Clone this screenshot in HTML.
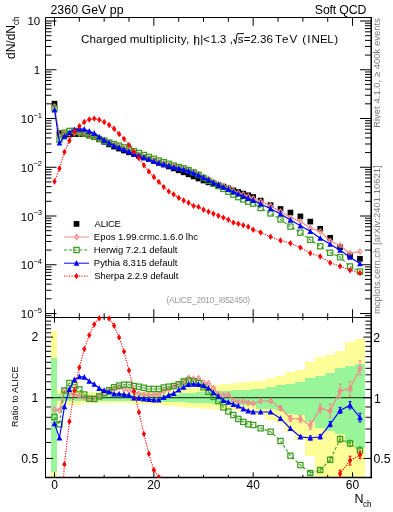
<!DOCTYPE html><html><head><meta charset="utf-8"><style>html,body{margin:0;padding:0;background:#fff;}svg{display:block;font-family:"Liberation Sans",sans-serif;will-change:transform;}</style></head><body>
<svg width="393" height="512" viewBox="0 0 393 512">
<defs><clipPath id="ct"><rect x="45.5" y="17.5" width="325.5" height="300"/></clipPath><clipPath id="cr"><rect x="45.5" y="317.5" width="325.5" height="160"/></clipPath><clipPath id="crm"><rect x="45.5" y="310" width="325.5" height="167.5"/></clipPath></defs>
<g clip-path="url(#cr)" shape-rendering="crispEdges">
<rect x="51.00" y="331.00" width="5.98" height="149.00" fill="#ffff99"/>
<rect x="51.00" y="357.70" width="5.98" height="114.00" fill="#99f599"/>
<rect x="56.98" y="390.40" width="4.97" height="14.30" fill="#ffff99"/>
<rect x="56.98" y="394.30" width="4.97" height="7.00" fill="#99f599"/>
<rect x="61.95" y="390.40" width="4.97" height="14.30" fill="#ffff99"/>
<rect x="61.95" y="394.30" width="4.97" height="7.00" fill="#99f599"/>
<rect x="66.92" y="390.40" width="4.97" height="14.30" fill="#ffff99"/>
<rect x="66.92" y="394.30" width="4.97" height="7.00" fill="#99f599"/>
<rect x="71.88" y="390.40" width="4.97" height="14.30" fill="#ffff99"/>
<rect x="71.88" y="394.30" width="4.97" height="7.00" fill="#99f599"/>
<rect x="76.85" y="390.40" width="4.97" height="14.30" fill="#ffff99"/>
<rect x="76.85" y="394.30" width="4.97" height="7.00" fill="#99f599"/>
<rect x="81.82" y="392.30" width="4.97" height="11.00" fill="#ffff99"/>
<rect x="81.82" y="395.30" width="4.97" height="5.30" fill="#99f599"/>
<rect x="86.79" y="392.30" width="4.97" height="11.00" fill="#ffff99"/>
<rect x="86.79" y="395.30" width="4.97" height="5.30" fill="#99f599"/>
<rect x="91.75" y="392.30" width="4.97" height="11.00" fill="#ffff99"/>
<rect x="91.75" y="395.30" width="4.97" height="5.30" fill="#99f599"/>
<rect x="96.72" y="392.30" width="4.97" height="11.00" fill="#ffff99"/>
<rect x="96.72" y="395.30" width="4.97" height="5.30" fill="#99f599"/>
<rect x="101.69" y="392.30" width="4.97" height="11.00" fill="#ffff99"/>
<rect x="101.69" y="395.30" width="4.97" height="5.30" fill="#99f599"/>
<rect x="106.65" y="392.30" width="4.97" height="11.00" fill="#ffff99"/>
<rect x="106.65" y="395.30" width="4.97" height="5.30" fill="#99f599"/>
<rect x="111.62" y="392.30" width="4.97" height="11.00" fill="#ffff99"/>
<rect x="111.62" y="395.30" width="4.97" height="5.30" fill="#99f599"/>
<rect x="116.59" y="392.30" width="4.97" height="11.00" fill="#ffff99"/>
<rect x="116.59" y="395.30" width="4.97" height="5.30" fill="#99f599"/>
<rect x="121.55" y="392.30" width="4.97" height="11.00" fill="#ffff99"/>
<rect x="121.55" y="395.30" width="4.97" height="5.30" fill="#99f599"/>
<rect x="126.52" y="392.30" width="4.97" height="11.00" fill="#ffff99"/>
<rect x="126.52" y="395.30" width="4.97" height="5.30" fill="#99f599"/>
<rect x="131.49" y="392.34" width="4.97" height="11.22" fill="#ffff99"/>
<rect x="131.49" y="395.30" width="4.97" height="5.42" fill="#99f599"/>
<rect x="136.46" y="392.38" width="4.97" height="11.44" fill="#ffff99"/>
<rect x="136.46" y="395.30" width="4.97" height="5.54" fill="#99f599"/>
<rect x="141.42" y="392.42" width="4.97" height="11.66" fill="#ffff99"/>
<rect x="141.42" y="395.30" width="4.97" height="5.66" fill="#99f599"/>
<rect x="146.39" y="392.46" width="4.97" height="11.88" fill="#ffff99"/>
<rect x="146.39" y="395.30" width="4.97" height="5.78" fill="#99f599"/>
<rect x="151.36" y="392.50" width="4.97" height="12.10" fill="#ffff99"/>
<rect x="151.36" y="395.30" width="4.97" height="5.90" fill="#99f599"/>
<rect x="156.32" y="391.82" width="4.97" height="13.21" fill="#ffff99"/>
<rect x="156.32" y="394.95" width="4.97" height="6.44" fill="#99f599"/>
<rect x="161.29" y="391.14" width="4.97" height="14.31" fill="#ffff99"/>
<rect x="161.29" y="394.61" width="4.97" height="6.97" fill="#99f599"/>
<rect x="166.26" y="390.46" width="4.97" height="15.42" fill="#ffff99"/>
<rect x="166.26" y="394.26" width="4.97" height="7.51" fill="#99f599"/>
<rect x="171.22" y="389.79" width="4.97" height="16.53" fill="#ffff99"/>
<rect x="171.22" y="393.92" width="4.97" height="8.04" fill="#99f599"/>
<rect x="176.19" y="389.11" width="4.97" height="17.64" fill="#ffff99"/>
<rect x="176.19" y="393.57" width="4.97" height="8.58" fill="#99f599"/>
<rect x="181.16" y="388.43" width="4.97" height="18.74" fill="#ffff99"/>
<rect x="181.16" y="393.23" width="4.97" height="9.11" fill="#99f599"/>
<rect x="186.13" y="387.75" width="4.97" height="19.85" fill="#ffff99"/>
<rect x="186.13" y="392.88" width="4.97" height="9.65" fill="#99f599"/>
<rect x="191.09" y="387.07" width="4.97" height="20.96" fill="#ffff99"/>
<rect x="191.09" y="392.54" width="4.97" height="10.19" fill="#99f599"/>
<rect x="196.06" y="386.51" width="4.97" height="21.86" fill="#ffff99"/>
<rect x="196.06" y="392.25" width="4.97" height="10.67" fill="#99f599"/>
<rect x="201.03" y="386.02" width="4.97" height="22.62" fill="#ffff99"/>
<rect x="201.03" y="392.00" width="4.97" height="11.13" fill="#99f599"/>
<rect x="205.99" y="385.53" width="4.97" height="23.39" fill="#ffff99"/>
<rect x="205.99" y="391.74" width="4.97" height="11.58" fill="#99f599"/>
<rect x="210.96" y="385.05" width="4.97" height="24.15" fill="#ffff99"/>
<rect x="210.96" y="391.49" width="4.97" height="12.03" fill="#99f599"/>
<rect x="215.93" y="384.56" width="4.97" height="24.92" fill="#ffff99"/>
<rect x="215.93" y="391.24" width="4.97" height="12.49" fill="#99f599"/>
<rect x="220.89" y="384.07" width="4.97" height="25.68" fill="#ffff99"/>
<rect x="220.89" y="390.99" width="4.97" height="12.94" fill="#99f599"/>
<rect x="225.86" y="383.58" width="4.97" height="26.45" fill="#ffff99"/>
<rect x="225.86" y="390.74" width="4.97" height="13.39" fill="#99f599"/>
<rect x="230.83" y="383.10" width="4.97" height="27.21" fill="#ffff99"/>
<rect x="230.83" y="390.48" width="4.97" height="13.85" fill="#99f599"/>
<rect x="235.80" y="382.61" width="4.97" height="27.98" fill="#ffff99"/>
<rect x="235.80" y="390.23" width="4.97" height="14.30" fill="#99f599"/>
<rect x="240.76" y="382.12" width="4.97" height="28.74" fill="#ffff99"/>
<rect x="240.76" y="389.98" width="4.97" height="14.76" fill="#99f599"/>
<rect x="245.73" y="381.63" width="4.97" height="29.51" fill="#ffff99"/>
<rect x="245.73" y="389.73" width="4.97" height="15.21" fill="#99f599"/>
<rect x="250.70" y="381.15" width="4.97" height="30.27" fill="#ffff99"/>
<rect x="250.70" y="389.48" width="4.97" height="15.66" fill="#99f599"/>
<rect x="255.66" y="380.80" width="9.93" height="34.20" fill="#ffff99"/>
<rect x="255.66" y="388.50" width="9.93" height="20.00" fill="#99f599"/>
<rect x="265.60" y="377.70" width="9.93" height="42.30" fill="#ffff99"/>
<rect x="265.60" y="387.00" width="9.93" height="22.00" fill="#99f599"/>
<rect x="275.53" y="376.20" width="9.93" height="46.80" fill="#ffff99"/>
<rect x="275.53" y="385.40" width="9.93" height="25.60" fill="#99f599"/>
<rect x="285.47" y="371.60" width="9.93" height="60.70" fill="#ffff99"/>
<rect x="285.47" y="383.90" width="9.93" height="30.40" fill="#99f599"/>
<rect x="295.40" y="370.00" width="9.93" height="69.80" fill="#ffff99"/>
<rect x="295.40" y="382.30" width="9.93" height="32.50" fill="#99f599"/>
<rect x="305.33" y="362.30" width="9.93" height="93.20" fill="#ffff99"/>
<rect x="305.33" y="377.70" width="9.93" height="44.60" fill="#99f599"/>
<rect x="315.27" y="357.10" width="9.93" height="122.90" fill="#ffff99"/>
<rect x="315.27" y="376.00" width="9.93" height="51.70" fill="#99f599"/>
<rect x="325.20" y="354.60" width="9.93" height="125.40" fill="#ffff99"/>
<rect x="325.20" y="372.50" width="9.93" height="58.50" fill="#99f599"/>
<rect x="335.14" y="351.00" width="9.93" height="129.00" fill="#ffff99"/>
<rect x="335.14" y="368.00" width="9.93" height="66.30" fill="#99f599"/>
<rect x="345.07" y="342.30" width="9.93" height="137.70" fill="#ffff99"/>
<rect x="345.07" y="365.50" width="9.93" height="77.90" fill="#99f599"/>
<rect x="355.00" y="338.60" width="9.93" height="141.40" fill="#ffff99"/>
<rect x="355.00" y="363.50" width="9.93" height="84.10" fill="#99f599"/>
</g>
<g><line x1="45.50" y1="17.50" x2="371.00" y2="17.50" stroke="#000" stroke-width="1"/><line x1="45.50" y1="17.50" x2="45.50" y2="477.50" stroke="#000" stroke-width="1"/><line x1="371.20" y1="17.00" x2="371.20" y2="478.30" stroke="#000" stroke-width="1.5"/><line x1="45.00" y1="317.50" x2="371.00" y2="317.50" stroke="#000" stroke-width="1"/><line x1="45.00" y1="477.60" x2="371.90" y2="477.60" stroke="#000" stroke-width="1.5"/><line x1="54.50" y1="17.50" x2="54.50" y2="25.80" stroke="#000" stroke-width="1"/><line x1="54.50" y1="317.50" x2="54.50" y2="309.20" stroke="#000" stroke-width="1"/><line x1="54.50" y1="317.50" x2="54.50" y2="322.70" stroke="#000" stroke-width="1"/><line x1="54.50" y1="477.50" x2="54.50" y2="472.30" stroke="#000" stroke-width="1"/><line x1="79.33" y1="17.50" x2="79.33" y2="21.70" stroke="#000" stroke-width="1"/><line x1="79.33" y1="317.50" x2="79.33" y2="313.30" stroke="#000" stroke-width="1"/><line x1="79.33" y1="317.50" x2="79.33" y2="320.20" stroke="#000" stroke-width="1"/><line x1="79.33" y1="477.50" x2="79.33" y2="474.80" stroke="#000" stroke-width="1"/><line x1="104.17" y1="17.50" x2="104.17" y2="21.70" stroke="#000" stroke-width="1"/><line x1="104.17" y1="317.50" x2="104.17" y2="313.30" stroke="#000" stroke-width="1"/><line x1="104.17" y1="317.50" x2="104.17" y2="320.20" stroke="#000" stroke-width="1"/><line x1="104.17" y1="477.50" x2="104.17" y2="474.80" stroke="#000" stroke-width="1"/><line x1="129.00" y1="17.50" x2="129.00" y2="21.70" stroke="#000" stroke-width="1"/><line x1="129.00" y1="317.50" x2="129.00" y2="313.30" stroke="#000" stroke-width="1"/><line x1="129.00" y1="317.50" x2="129.00" y2="320.20" stroke="#000" stroke-width="1"/><line x1="129.00" y1="477.50" x2="129.00" y2="474.80" stroke="#000" stroke-width="1"/><line x1="153.84" y1="17.50" x2="153.84" y2="25.80" stroke="#000" stroke-width="1"/><line x1="153.84" y1="317.50" x2="153.84" y2="309.20" stroke="#000" stroke-width="1"/><line x1="153.84" y1="317.50" x2="153.84" y2="322.70" stroke="#000" stroke-width="1"/><line x1="153.84" y1="477.50" x2="153.84" y2="472.30" stroke="#000" stroke-width="1"/><line x1="178.68" y1="17.50" x2="178.68" y2="21.70" stroke="#000" stroke-width="1"/><line x1="178.68" y1="317.50" x2="178.68" y2="313.30" stroke="#000" stroke-width="1"/><line x1="178.68" y1="317.50" x2="178.68" y2="320.20" stroke="#000" stroke-width="1"/><line x1="178.68" y1="477.50" x2="178.68" y2="474.80" stroke="#000" stroke-width="1"/><line x1="203.51" y1="17.50" x2="203.51" y2="21.70" stroke="#000" stroke-width="1"/><line x1="203.51" y1="317.50" x2="203.51" y2="313.30" stroke="#000" stroke-width="1"/><line x1="203.51" y1="317.50" x2="203.51" y2="320.20" stroke="#000" stroke-width="1"/><line x1="203.51" y1="477.50" x2="203.51" y2="474.80" stroke="#000" stroke-width="1"/><line x1="228.34" y1="17.50" x2="228.34" y2="21.70" stroke="#000" stroke-width="1"/><line x1="228.34" y1="317.50" x2="228.34" y2="313.30" stroke="#000" stroke-width="1"/><line x1="228.34" y1="317.50" x2="228.34" y2="320.20" stroke="#000" stroke-width="1"/><line x1="228.34" y1="477.50" x2="228.34" y2="474.80" stroke="#000" stroke-width="1"/><line x1="253.18" y1="17.50" x2="253.18" y2="25.80" stroke="#000" stroke-width="1"/><line x1="253.18" y1="317.50" x2="253.18" y2="309.20" stroke="#000" stroke-width="1"/><line x1="253.18" y1="317.50" x2="253.18" y2="322.70" stroke="#000" stroke-width="1"/><line x1="253.18" y1="477.50" x2="253.18" y2="472.30" stroke="#000" stroke-width="1"/><line x1="278.01" y1="17.50" x2="278.01" y2="21.70" stroke="#000" stroke-width="1"/><line x1="278.01" y1="317.50" x2="278.01" y2="313.30" stroke="#000" stroke-width="1"/><line x1="278.01" y1="317.50" x2="278.01" y2="320.20" stroke="#000" stroke-width="1"/><line x1="278.01" y1="477.50" x2="278.01" y2="474.80" stroke="#000" stroke-width="1"/><line x1="302.85" y1="17.50" x2="302.85" y2="21.70" stroke="#000" stroke-width="1"/><line x1="302.85" y1="317.50" x2="302.85" y2="313.30" stroke="#000" stroke-width="1"/><line x1="302.85" y1="317.50" x2="302.85" y2="320.20" stroke="#000" stroke-width="1"/><line x1="302.85" y1="477.50" x2="302.85" y2="474.80" stroke="#000" stroke-width="1"/><line x1="327.69" y1="17.50" x2="327.69" y2="21.70" stroke="#000" stroke-width="1"/><line x1="327.69" y1="317.50" x2="327.69" y2="313.30" stroke="#000" stroke-width="1"/><line x1="327.69" y1="317.50" x2="327.69" y2="320.20" stroke="#000" stroke-width="1"/><line x1="327.69" y1="477.50" x2="327.69" y2="474.80" stroke="#000" stroke-width="1"/><line x1="352.52" y1="17.50" x2="352.52" y2="25.80" stroke="#000" stroke-width="1"/><line x1="352.52" y1="317.50" x2="352.52" y2="309.20" stroke="#000" stroke-width="1"/><line x1="352.52" y1="317.50" x2="352.52" y2="322.70" stroke="#000" stroke-width="1"/><line x1="352.52" y1="477.50" x2="352.52" y2="472.30" stroke="#000" stroke-width="1"/><line x1="45.50" y1="315.73" x2="51.50" y2="315.73" stroke="#000" stroke-width="1"/><line x1="371.00" y1="315.73" x2="365.00" y2="315.73" stroke="#000" stroke-width="1"/><line x1="45.50" y1="313.50" x2="56.50" y2="313.50" stroke="#000" stroke-width="1"/><line x1="371.00" y1="313.50" x2="360.00" y2="313.50" stroke="#000" stroke-width="1"/><line x1="45.50" y1="298.82" x2="51.50" y2="298.82" stroke="#000" stroke-width="1"/><line x1="371.00" y1="298.82" x2="365.00" y2="298.82" stroke="#000" stroke-width="1"/><line x1="45.50" y1="290.24" x2="51.50" y2="290.24" stroke="#000" stroke-width="1"/><line x1="371.00" y1="290.24" x2="365.00" y2="290.24" stroke="#000" stroke-width="1"/><line x1="45.50" y1="284.15" x2="51.50" y2="284.15" stroke="#000" stroke-width="1"/><line x1="371.00" y1="284.15" x2="365.00" y2="284.15" stroke="#000" stroke-width="1"/><line x1="45.50" y1="279.43" x2="51.50" y2="279.43" stroke="#000" stroke-width="1"/><line x1="371.00" y1="279.43" x2="365.00" y2="279.43" stroke="#000" stroke-width="1"/><line x1="45.50" y1="275.57" x2="51.50" y2="275.57" stroke="#000" stroke-width="1"/><line x1="371.00" y1="275.57" x2="365.00" y2="275.57" stroke="#000" stroke-width="1"/><line x1="45.50" y1="272.30" x2="51.50" y2="272.30" stroke="#000" stroke-width="1"/><line x1="371.00" y1="272.30" x2="365.00" y2="272.30" stroke="#000" stroke-width="1"/><line x1="45.50" y1="269.47" x2="51.50" y2="269.47" stroke="#000" stroke-width="1"/><line x1="371.00" y1="269.47" x2="365.00" y2="269.47" stroke="#000" stroke-width="1"/><line x1="45.50" y1="266.98" x2="51.50" y2="266.98" stroke="#000" stroke-width="1"/><line x1="371.00" y1="266.98" x2="365.00" y2="266.98" stroke="#000" stroke-width="1"/><line x1="45.50" y1="264.75" x2="56.50" y2="264.75" stroke="#000" stroke-width="1"/><line x1="371.00" y1="264.75" x2="360.00" y2="264.75" stroke="#000" stroke-width="1"/><line x1="45.50" y1="250.07" x2="51.50" y2="250.07" stroke="#000" stroke-width="1"/><line x1="371.00" y1="250.07" x2="365.00" y2="250.07" stroke="#000" stroke-width="1"/><line x1="45.50" y1="241.49" x2="51.50" y2="241.49" stroke="#000" stroke-width="1"/><line x1="371.00" y1="241.49" x2="365.00" y2="241.49" stroke="#000" stroke-width="1"/><line x1="45.50" y1="235.40" x2="51.50" y2="235.40" stroke="#000" stroke-width="1"/><line x1="371.00" y1="235.40" x2="365.00" y2="235.40" stroke="#000" stroke-width="1"/><line x1="45.50" y1="230.68" x2="51.50" y2="230.68" stroke="#000" stroke-width="1"/><line x1="371.00" y1="230.68" x2="365.00" y2="230.68" stroke="#000" stroke-width="1"/><line x1="45.50" y1="226.82" x2="51.50" y2="226.82" stroke="#000" stroke-width="1"/><line x1="371.00" y1="226.82" x2="365.00" y2="226.82" stroke="#000" stroke-width="1"/><line x1="45.50" y1="223.55" x2="51.50" y2="223.55" stroke="#000" stroke-width="1"/><line x1="371.00" y1="223.55" x2="365.00" y2="223.55" stroke="#000" stroke-width="1"/><line x1="45.50" y1="220.72" x2="51.50" y2="220.72" stroke="#000" stroke-width="1"/><line x1="371.00" y1="220.72" x2="365.00" y2="220.72" stroke="#000" stroke-width="1"/><line x1="45.50" y1="218.23" x2="51.50" y2="218.23" stroke="#000" stroke-width="1"/><line x1="371.00" y1="218.23" x2="365.00" y2="218.23" stroke="#000" stroke-width="1"/><line x1="45.50" y1="216.00" x2="56.50" y2="216.00" stroke="#000" stroke-width="1"/><line x1="371.00" y1="216.00" x2="360.00" y2="216.00" stroke="#000" stroke-width="1"/><line x1="45.50" y1="201.32" x2="51.50" y2="201.32" stroke="#000" stroke-width="1"/><line x1="371.00" y1="201.32" x2="365.00" y2="201.32" stroke="#000" stroke-width="1"/><line x1="45.50" y1="192.74" x2="51.50" y2="192.74" stroke="#000" stroke-width="1"/><line x1="371.00" y1="192.74" x2="365.00" y2="192.74" stroke="#000" stroke-width="1"/><line x1="45.50" y1="186.65" x2="51.50" y2="186.65" stroke="#000" stroke-width="1"/><line x1="371.00" y1="186.65" x2="365.00" y2="186.65" stroke="#000" stroke-width="1"/><line x1="45.50" y1="181.93" x2="51.50" y2="181.93" stroke="#000" stroke-width="1"/><line x1="371.00" y1="181.93" x2="365.00" y2="181.93" stroke="#000" stroke-width="1"/><line x1="45.50" y1="178.07" x2="51.50" y2="178.07" stroke="#000" stroke-width="1"/><line x1="371.00" y1="178.07" x2="365.00" y2="178.07" stroke="#000" stroke-width="1"/><line x1="45.50" y1="174.80" x2="51.50" y2="174.80" stroke="#000" stroke-width="1"/><line x1="371.00" y1="174.80" x2="365.00" y2="174.80" stroke="#000" stroke-width="1"/><line x1="45.50" y1="171.97" x2="51.50" y2="171.97" stroke="#000" stroke-width="1"/><line x1="371.00" y1="171.97" x2="365.00" y2="171.97" stroke="#000" stroke-width="1"/><line x1="45.50" y1="169.48" x2="51.50" y2="169.48" stroke="#000" stroke-width="1"/><line x1="371.00" y1="169.48" x2="365.00" y2="169.48" stroke="#000" stroke-width="1"/><line x1="45.50" y1="167.25" x2="56.50" y2="167.25" stroke="#000" stroke-width="1"/><line x1="371.00" y1="167.25" x2="360.00" y2="167.25" stroke="#000" stroke-width="1"/><line x1="45.50" y1="152.57" x2="51.50" y2="152.57" stroke="#000" stroke-width="1"/><line x1="371.00" y1="152.57" x2="365.00" y2="152.57" stroke="#000" stroke-width="1"/><line x1="45.50" y1="143.99" x2="51.50" y2="143.99" stroke="#000" stroke-width="1"/><line x1="371.00" y1="143.99" x2="365.00" y2="143.99" stroke="#000" stroke-width="1"/><line x1="45.50" y1="137.90" x2="51.50" y2="137.90" stroke="#000" stroke-width="1"/><line x1="371.00" y1="137.90" x2="365.00" y2="137.90" stroke="#000" stroke-width="1"/><line x1="45.50" y1="133.18" x2="51.50" y2="133.18" stroke="#000" stroke-width="1"/><line x1="371.00" y1="133.18" x2="365.00" y2="133.18" stroke="#000" stroke-width="1"/><line x1="45.50" y1="129.32" x2="51.50" y2="129.32" stroke="#000" stroke-width="1"/><line x1="371.00" y1="129.32" x2="365.00" y2="129.32" stroke="#000" stroke-width="1"/><line x1="45.50" y1="126.05" x2="51.50" y2="126.05" stroke="#000" stroke-width="1"/><line x1="371.00" y1="126.05" x2="365.00" y2="126.05" stroke="#000" stroke-width="1"/><line x1="45.50" y1="123.22" x2="51.50" y2="123.22" stroke="#000" stroke-width="1"/><line x1="371.00" y1="123.22" x2="365.00" y2="123.22" stroke="#000" stroke-width="1"/><line x1="45.50" y1="120.73" x2="51.50" y2="120.73" stroke="#000" stroke-width="1"/><line x1="371.00" y1="120.73" x2="365.00" y2="120.73" stroke="#000" stroke-width="1"/><line x1="45.50" y1="118.50" x2="56.50" y2="118.50" stroke="#000" stroke-width="1"/><line x1="371.00" y1="118.50" x2="360.00" y2="118.50" stroke="#000" stroke-width="1"/><line x1="45.50" y1="103.82" x2="51.50" y2="103.82" stroke="#000" stroke-width="1"/><line x1="371.00" y1="103.82" x2="365.00" y2="103.82" stroke="#000" stroke-width="1"/><line x1="45.50" y1="95.24" x2="51.50" y2="95.24" stroke="#000" stroke-width="1"/><line x1="371.00" y1="95.24" x2="365.00" y2="95.24" stroke="#000" stroke-width="1"/><line x1="45.50" y1="89.15" x2="51.50" y2="89.15" stroke="#000" stroke-width="1"/><line x1="371.00" y1="89.15" x2="365.00" y2="89.15" stroke="#000" stroke-width="1"/><line x1="45.50" y1="84.43" x2="51.50" y2="84.43" stroke="#000" stroke-width="1"/><line x1="371.00" y1="84.43" x2="365.00" y2="84.43" stroke="#000" stroke-width="1"/><line x1="45.50" y1="80.57" x2="51.50" y2="80.57" stroke="#000" stroke-width="1"/><line x1="371.00" y1="80.57" x2="365.00" y2="80.57" stroke="#000" stroke-width="1"/><line x1="45.50" y1="77.30" x2="51.50" y2="77.30" stroke="#000" stroke-width="1"/><line x1="371.00" y1="77.30" x2="365.00" y2="77.30" stroke="#000" stroke-width="1"/><line x1="45.50" y1="74.47" x2="51.50" y2="74.47" stroke="#000" stroke-width="1"/><line x1="371.00" y1="74.47" x2="365.00" y2="74.47" stroke="#000" stroke-width="1"/><line x1="45.50" y1="71.98" x2="51.50" y2="71.98" stroke="#000" stroke-width="1"/><line x1="371.00" y1="71.98" x2="365.00" y2="71.98" stroke="#000" stroke-width="1"/><line x1="45.50" y1="69.75" x2="56.50" y2="69.75" stroke="#000" stroke-width="1"/><line x1="371.00" y1="69.75" x2="360.00" y2="69.75" stroke="#000" stroke-width="1"/><line x1="45.50" y1="55.07" x2="51.50" y2="55.07" stroke="#000" stroke-width="1"/><line x1="371.00" y1="55.07" x2="365.00" y2="55.07" stroke="#000" stroke-width="1"/><line x1="45.50" y1="46.49" x2="51.50" y2="46.49" stroke="#000" stroke-width="1"/><line x1="371.00" y1="46.49" x2="365.00" y2="46.49" stroke="#000" stroke-width="1"/><line x1="45.50" y1="40.40" x2="51.50" y2="40.40" stroke="#000" stroke-width="1"/><line x1="371.00" y1="40.40" x2="365.00" y2="40.40" stroke="#000" stroke-width="1"/><line x1="45.50" y1="35.68" x2="51.50" y2="35.68" stroke="#000" stroke-width="1"/><line x1="371.00" y1="35.68" x2="365.00" y2="35.68" stroke="#000" stroke-width="1"/><line x1="45.50" y1="31.82" x2="51.50" y2="31.82" stroke="#000" stroke-width="1"/><line x1="371.00" y1="31.82" x2="365.00" y2="31.82" stroke="#000" stroke-width="1"/><line x1="45.50" y1="28.55" x2="51.50" y2="28.55" stroke="#000" stroke-width="1"/><line x1="371.00" y1="28.55" x2="365.00" y2="28.55" stroke="#000" stroke-width="1"/><line x1="45.50" y1="25.72" x2="51.50" y2="25.72" stroke="#000" stroke-width="1"/><line x1="371.00" y1="25.72" x2="365.00" y2="25.72" stroke="#000" stroke-width="1"/><line x1="45.50" y1="23.23" x2="51.50" y2="23.23" stroke="#000" stroke-width="1"/><line x1="371.00" y1="23.23" x2="365.00" y2="23.23" stroke="#000" stroke-width="1"/><line x1="45.50" y1="21.00" x2="56.50" y2="21.00" stroke="#000" stroke-width="1"/><line x1="371.00" y1="21.00" x2="360.00" y2="21.00" stroke="#000" stroke-width="1"/><line x1="45.50" y1="458.41" x2="53.10" y2="458.41" stroke="#000" stroke-width="1"/><line x1="371.00" y1="458.41" x2="363.40" y2="458.41" stroke="#000" stroke-width="1"/><line x1="45.50" y1="442.45" x2="51.10" y2="442.45" stroke="#000" stroke-width="1"/><line x1="371.00" y1="442.45" x2="365.40" y2="442.45" stroke="#000" stroke-width="1"/><line x1="45.50" y1="428.96" x2="51.10" y2="428.96" stroke="#000" stroke-width="1"/><line x1="371.00" y1="428.96" x2="365.40" y2="428.96" stroke="#000" stroke-width="1"/><line x1="45.50" y1="417.28" x2="51.10" y2="417.28" stroke="#000" stroke-width="1"/><line x1="371.00" y1="417.28" x2="365.40" y2="417.28" stroke="#000" stroke-width="1"/><line x1="45.50" y1="406.97" x2="51.10" y2="406.97" stroke="#000" stroke-width="1"/><line x1="371.00" y1="406.97" x2="365.40" y2="406.97" stroke="#000" stroke-width="1"/><line x1="45.50" y1="397.75" x2="53.10" y2="397.75" stroke="#000" stroke-width="1"/><line x1="371.00" y1="397.75" x2="363.40" y2="397.75" stroke="#000" stroke-width="1"/><line x1="45.50" y1="389.41" x2="51.10" y2="389.41" stroke="#000" stroke-width="1"/><line x1="371.00" y1="389.41" x2="365.40" y2="389.41" stroke="#000" stroke-width="1"/><line x1="45.50" y1="381.79" x2="51.10" y2="381.79" stroke="#000" stroke-width="1"/><line x1="371.00" y1="381.79" x2="365.40" y2="381.79" stroke="#000" stroke-width="1"/><line x1="45.50" y1="374.79" x2="51.10" y2="374.79" stroke="#000" stroke-width="1"/><line x1="371.00" y1="374.79" x2="365.40" y2="374.79" stroke="#000" stroke-width="1"/><line x1="45.50" y1="368.31" x2="51.10" y2="368.31" stroke="#000" stroke-width="1"/><line x1="371.00" y1="368.31" x2="365.40" y2="368.31" stroke="#000" stroke-width="1"/><line x1="45.50" y1="362.27" x2="51.10" y2="362.27" stroke="#000" stroke-width="1"/><line x1="371.00" y1="362.27" x2="365.40" y2="362.27" stroke="#000" stroke-width="1"/><line x1="45.50" y1="356.62" x2="51.10" y2="356.62" stroke="#000" stroke-width="1"/><line x1="371.00" y1="356.62" x2="365.40" y2="356.62" stroke="#000" stroke-width="1"/><line x1="45.50" y1="351.31" x2="51.10" y2="351.31" stroke="#000" stroke-width="1"/><line x1="371.00" y1="351.31" x2="365.40" y2="351.31" stroke="#000" stroke-width="1"/><line x1="45.50" y1="346.31" x2="51.10" y2="346.31" stroke="#000" stroke-width="1"/><line x1="371.00" y1="346.31" x2="365.40" y2="346.31" stroke="#000" stroke-width="1"/><line x1="45.50" y1="341.58" x2="51.10" y2="341.58" stroke="#000" stroke-width="1"/><line x1="371.00" y1="341.58" x2="365.40" y2="341.58" stroke="#000" stroke-width="1"/><line x1="45.50" y1="337.09" x2="53.10" y2="337.09" stroke="#000" stroke-width="1"/><line x1="371.00" y1="337.09" x2="363.40" y2="337.09" stroke="#000" stroke-width="1"/><line x1="45.50" y1="332.82" x2="51.10" y2="332.82" stroke="#000" stroke-width="1"/><line x1="371.00" y1="332.82" x2="365.40" y2="332.82" stroke="#000" stroke-width="1"/><line x1="45.50" y1="328.75" x2="51.10" y2="328.75" stroke="#000" stroke-width="1"/><line x1="371.00" y1="328.75" x2="365.40" y2="328.75" stroke="#000" stroke-width="1"/><line x1="45.50" y1="324.86" x2="51.10" y2="324.86" stroke="#000" stroke-width="1"/><line x1="371.00" y1="324.86" x2="365.40" y2="324.86" stroke="#000" stroke-width="1"/><line x1="45.50" y1="321.14" x2="51.10" y2="321.14" stroke="#000" stroke-width="1"/><line x1="371.00" y1="321.14" x2="365.40" y2="321.14" stroke="#000" stroke-width="1"/></g>
<line x1="45.5" y1="397.55" x2="371.0" y2="397.55" stroke="#000" stroke-opacity="0.7" stroke-width="1.2"/>
<polyline clip-path="url(#cr)" points="54.50,409.50 59.47,410.30 64.43,390.50 69.40,393.00 74.37,394.00 79.33,396.00 84.30,397.50 89.27,399.00 94.24,399.00 99.20,396.00 104.17,392.00 109.14,390.00 114.10,388.20 119.07,387.20 124.04,389.00 129.00,390.50 133.97,392.40 138.94,393.60 143.91,394.40 148.87,395.10 153.84,394.40 158.81,394.40 163.77,391.00 168.74,389.00 173.71,386.70 178.68,384.40 183.64,381.00 188.61,377.90 193.58,379.00 198.54,378.30 203.51,382.50 208.48,383.30 213.44,388.30 218.41,394.00 223.38,395.20 228.34,394.40 233.31,400.50 238.28,402.10 243.25,401.30 248.21,402.80 253.18,403.60 260.63,401.00 270.56,401.00 280.50,408.00 290.43,418.50 300.37,419.10 310.30,425.40 320.23,408.40 330.17,411.00 340.10,390.90 350.04,388.90 359.97,367.90" fill="none" stroke="#f28a8a" stroke-width="1.2"/>
<g clip-path="url(#crm)"><polygon points="54.50,406.90 56.60,409.50 54.50,412.10 52.40,409.50" fill="none" stroke="#f28a8a" stroke-width="1.1"/><polygon points="59.47,407.70 61.57,410.30 59.47,412.90 57.37,410.30" fill="none" stroke="#f28a8a" stroke-width="1.1"/><polygon points="64.43,387.90 66.53,390.50 64.43,393.10 62.33,390.50" fill="none" stroke="#f28a8a" stroke-width="1.1"/><polygon points="69.40,390.40 71.50,393.00 69.40,395.60 67.30,393.00" fill="none" stroke="#f28a8a" stroke-width="1.1"/><polygon points="74.37,391.40 76.47,394.00 74.37,396.60 72.27,394.00" fill="none" stroke="#f28a8a" stroke-width="1.1"/><polygon points="79.33,393.40 81.43,396.00 79.33,398.60 77.23,396.00" fill="none" stroke="#f28a8a" stroke-width="1.1"/><polygon points="84.30,394.90 86.40,397.50 84.30,400.10 82.20,397.50" fill="none" stroke="#f28a8a" stroke-width="1.1"/><polygon points="89.27,396.40 91.37,399.00 89.27,401.60 87.17,399.00" fill="none" stroke="#f28a8a" stroke-width="1.1"/><polygon points="94.24,396.40 96.34,399.00 94.24,401.60 92.14,399.00" fill="none" stroke="#f28a8a" stroke-width="1.1"/><polygon points="99.20,393.40 101.30,396.00 99.20,398.60 97.10,396.00" fill="none" stroke="#f28a8a" stroke-width="1.1"/><polygon points="104.17,389.40 106.27,392.00 104.17,394.60 102.07,392.00" fill="none" stroke="#f28a8a" stroke-width="1.1"/><polygon points="109.14,387.40 111.24,390.00 109.14,392.60 107.04,390.00" fill="none" stroke="#f28a8a" stroke-width="1.1"/><polygon points="114.10,385.60 116.20,388.20 114.10,390.80 112.00,388.20" fill="none" stroke="#f28a8a" stroke-width="1.1"/><polygon points="119.07,384.60 121.17,387.20 119.07,389.80 116.97,387.20" fill="none" stroke="#f28a8a" stroke-width="1.1"/><polygon points="124.04,386.40 126.14,389.00 124.04,391.60 121.94,389.00" fill="none" stroke="#f28a8a" stroke-width="1.1"/><polygon points="129.00,387.90 131.10,390.50 129.00,393.10 126.91,390.50" fill="none" stroke="#f28a8a" stroke-width="1.1"/><polygon points="133.97,389.80 136.07,392.40 133.97,395.00 131.87,392.40" fill="none" stroke="#f28a8a" stroke-width="1.1"/><polygon points="138.94,391.00 141.04,393.60 138.94,396.20 136.84,393.60" fill="none" stroke="#f28a8a" stroke-width="1.1"/><polygon points="143.91,391.80 146.01,394.40 143.91,397.00 141.81,394.40" fill="none" stroke="#f28a8a" stroke-width="1.1"/><polygon points="148.87,392.50 150.97,395.10 148.87,397.70 146.77,395.10" fill="none" stroke="#f28a8a" stroke-width="1.1"/><polygon points="153.84,391.80 155.94,394.40 153.84,397.00 151.74,394.40" fill="none" stroke="#f28a8a" stroke-width="1.1"/><polygon points="158.81,391.80 160.91,394.40 158.81,397.00 156.71,394.40" fill="none" stroke="#f28a8a" stroke-width="1.1"/><polygon points="163.77,388.40 165.87,391.00 163.77,393.60 161.67,391.00" fill="none" stroke="#f28a8a" stroke-width="1.1"/><polygon points="168.74,386.40 170.84,389.00 168.74,391.60 166.64,389.00" fill="none" stroke="#f28a8a" stroke-width="1.1"/><polygon points="173.71,384.10 175.81,386.70 173.71,389.30 171.61,386.70" fill="none" stroke="#f28a8a" stroke-width="1.1"/><polygon points="178.68,381.80 180.78,384.40 178.68,387.00 176.58,384.40" fill="none" stroke="#f28a8a" stroke-width="1.1"/><polygon points="183.64,378.40 185.74,381.00 183.64,383.60 181.54,381.00" fill="none" stroke="#f28a8a" stroke-width="1.1"/><polygon points="188.61,375.30 190.71,377.90 188.61,380.50 186.51,377.90" fill="none" stroke="#f28a8a" stroke-width="1.1"/><polygon points="193.58,376.40 195.68,379.00 193.58,381.60 191.48,379.00" fill="none" stroke="#f28a8a" stroke-width="1.1"/><polygon points="198.54,375.70 200.64,378.30 198.54,380.90 196.44,378.30" fill="none" stroke="#f28a8a" stroke-width="1.1"/><polygon points="203.51,379.90 205.61,382.50 203.51,385.10 201.41,382.50" fill="none" stroke="#f28a8a" stroke-width="1.1"/><polygon points="208.48,380.70 210.58,383.30 208.48,385.90 206.38,383.30" fill="none" stroke="#f28a8a" stroke-width="1.1"/><polygon points="213.44,385.70 215.54,388.30 213.44,390.90 211.34,388.30" fill="none" stroke="#f28a8a" stroke-width="1.1"/><polygon points="218.41,391.40 220.51,394.00 218.41,396.60 216.31,394.00" fill="none" stroke="#f28a8a" stroke-width="1.1"/><polygon points="223.38,392.60 225.48,395.20 223.38,397.80 221.28,395.20" fill="none" stroke="#f28a8a" stroke-width="1.1"/><polygon points="228.34,391.80 230.44,394.40 228.34,397.00 226.25,394.40" fill="none" stroke="#f28a8a" stroke-width="1.1"/><polygon points="233.31,397.90 235.41,400.50 233.31,403.10 231.21,400.50" fill="none" stroke="#f28a8a" stroke-width="1.1"/><polygon points="238.28,399.50 240.38,402.10 238.28,404.70 236.18,402.10" fill="none" stroke="#f28a8a" stroke-width="1.1"/><polygon points="243.25,398.70 245.35,401.30 243.25,403.90 241.15,401.30" fill="none" stroke="#f28a8a" stroke-width="1.1"/><polygon points="248.21,400.20 250.31,402.80 248.21,405.40 246.11,402.80" fill="none" stroke="#f28a8a" stroke-width="1.1"/><polygon points="253.18,401.00 255.28,403.60 253.18,406.20 251.08,403.60" fill="none" stroke="#f28a8a" stroke-width="1.1"/><polygon points="260.63,398.40 262.73,401.00 260.63,403.60 258.53,401.00" fill="none" stroke="#f28a8a" stroke-width="1.1"/><polygon points="270.56,398.40 272.66,401.00 270.56,403.60 268.46,401.00" fill="none" stroke="#f28a8a" stroke-width="1.1"/><path d="M280.50,406.00V410.00M279.00,406.00H282.00M279.00,410.00H282.00" stroke="#f28a8a" stroke-width="1" fill="none"/><polygon points="280.50,405.40 282.60,408.00 280.50,410.60 278.40,408.00" fill="none" stroke="#f28a8a" stroke-width="1.1"/><path d="M290.43,415.50V421.50M288.93,415.50H291.93M288.93,421.50H291.93" stroke="#f28a8a" stroke-width="1" fill="none"/><polygon points="290.43,415.90 292.53,418.50 290.43,421.10 288.33,418.50" fill="none" stroke="#f28a8a" stroke-width="1.1"/><path d="M300.37,415.70V422.50M298.87,415.70H301.87M298.87,422.50H301.87" stroke="#f28a8a" stroke-width="1" fill="none"/><polygon points="300.37,416.50 302.47,419.10 300.37,421.70 298.27,419.10" fill="none" stroke="#f28a8a" stroke-width="1.1"/><path d="M310.30,421.20V429.60M308.80,421.20H311.80M308.80,429.60H311.80" stroke="#f28a8a" stroke-width="1" fill="none"/><polygon points="310.30,422.80 312.40,425.40 310.30,428.00 308.20,425.40" fill="none" stroke="#f28a8a" stroke-width="1.1"/><path d="M320.23,403.90V412.90M318.73,403.90H321.73M318.73,412.90H321.73" stroke="#f28a8a" stroke-width="1" fill="none"/><polygon points="320.23,405.80 322.33,408.40 320.23,411.00 318.13,408.40" fill="none" stroke="#f28a8a" stroke-width="1.1"/><path d="M330.17,404.50V417.50M328.67,404.50H331.67M328.67,417.50H331.67" stroke="#f28a8a" stroke-width="1" fill="none"/><polygon points="330.17,408.40 332.27,411.00 330.17,413.60 328.07,411.00" fill="none" stroke="#f28a8a" stroke-width="1.1"/><path d="M340.10,384.10V397.70M338.60,384.10H341.60M338.60,397.70H341.60" stroke="#f28a8a" stroke-width="1" fill="none"/><polygon points="340.10,388.30 342.20,390.90 340.10,393.50 338.00,390.90" fill="none" stroke="#f28a8a" stroke-width="1.1"/><path d="M350.04,381.60V396.20M348.54,381.60H351.54M348.54,396.20H351.54" stroke="#f28a8a" stroke-width="1" fill="none"/><polygon points="350.04,386.30 352.14,388.90 350.04,391.50 347.94,388.90" fill="none" stroke="#f28a8a" stroke-width="1.1"/><path d="M359.97,360.90V374.90M358.47,360.90H361.47M358.47,374.90H361.47" stroke="#f28a8a" stroke-width="1" fill="none"/><polygon points="359.97,365.30 362.07,367.90 359.97,370.50 357.87,367.90" fill="none" stroke="#f28a8a" stroke-width="1.1"/></g>
<polyline clip-path="url(#cr)" points="54.50,417.00 59.47,424.30 64.43,390.50 69.40,383.00 74.37,385.00 79.33,389.30 84.30,394.50 89.27,398.80 94.24,399.00 99.20,396.40 104.17,393.00 109.14,390.20 114.10,387.20 119.07,385.60 124.04,384.70 129.00,384.70 133.97,386.00 138.94,386.70 143.91,387.80 148.87,389.00 153.84,389.00 158.81,389.00 163.77,387.50 168.74,386.70 173.71,386.00 178.68,384.20 183.64,381.50 188.61,380.60 193.58,381.40 198.54,383.00 203.51,387.40 208.48,391.80 213.44,396.90 218.41,401.20 223.38,407.40 228.34,411.50 233.31,415.00 238.28,418.90 243.25,421.90 248.21,424.20 253.18,425.00 260.63,428.30 270.56,431.70 280.50,441.00 290.43,455.70 300.37,465.10 310.30,473.00 320.23,470.00 330.17,459.80 340.10,439.10 350.04,443.40 359.97,450.60" fill="none" stroke="#3a9d1f" stroke-width="1.1" stroke-dasharray="3,2"/>
<g clip-path="url(#crm)"><rect x="51.90" y="414.40" width="5.2" height="5.2" fill="none" stroke="#3a9d1f" stroke-width="1.25"/><rect x="56.87" y="421.70" width="5.2" height="5.2" fill="none" stroke="#3a9d1f" stroke-width="1.25"/><rect x="61.83" y="387.90" width="5.2" height="5.2" fill="none" stroke="#3a9d1f" stroke-width="1.25"/><rect x="66.80" y="380.40" width="5.2" height="5.2" fill="none" stroke="#3a9d1f" stroke-width="1.25"/><rect x="71.77" y="382.40" width="5.2" height="5.2" fill="none" stroke="#3a9d1f" stroke-width="1.25"/><rect x="76.73" y="386.70" width="5.2" height="5.2" fill="none" stroke="#3a9d1f" stroke-width="1.25"/><rect x="81.70" y="391.90" width="5.2" height="5.2" fill="none" stroke="#3a9d1f" stroke-width="1.25"/><rect x="86.67" y="396.20" width="5.2" height="5.2" fill="none" stroke="#3a9d1f" stroke-width="1.25"/><rect x="91.64" y="396.40" width="5.2" height="5.2" fill="none" stroke="#3a9d1f" stroke-width="1.25"/><rect x="96.60" y="393.80" width="5.2" height="5.2" fill="none" stroke="#3a9d1f" stroke-width="1.25"/><rect x="101.57" y="390.40" width="5.2" height="5.2" fill="none" stroke="#3a9d1f" stroke-width="1.25"/><rect x="106.54" y="387.60" width="5.2" height="5.2" fill="none" stroke="#3a9d1f" stroke-width="1.25"/><rect x="111.50" y="384.60" width="5.2" height="5.2" fill="none" stroke="#3a9d1f" stroke-width="1.25"/><rect x="116.47" y="383.00" width="5.2" height="5.2" fill="none" stroke="#3a9d1f" stroke-width="1.25"/><rect x="121.44" y="382.10" width="5.2" height="5.2" fill="none" stroke="#3a9d1f" stroke-width="1.25"/><rect x="126.41" y="382.10" width="5.2" height="5.2" fill="none" stroke="#3a9d1f" stroke-width="1.25"/><rect x="131.37" y="383.40" width="5.2" height="5.2" fill="none" stroke="#3a9d1f" stroke-width="1.25"/><rect x="136.34" y="384.10" width="5.2" height="5.2" fill="none" stroke="#3a9d1f" stroke-width="1.25"/><rect x="141.31" y="385.20" width="5.2" height="5.2" fill="none" stroke="#3a9d1f" stroke-width="1.25"/><rect x="146.27" y="386.40" width="5.2" height="5.2" fill="none" stroke="#3a9d1f" stroke-width="1.25"/><rect x="151.24" y="386.40" width="5.2" height="5.2" fill="none" stroke="#3a9d1f" stroke-width="1.25"/><rect x="156.21" y="386.40" width="5.2" height="5.2" fill="none" stroke="#3a9d1f" stroke-width="1.25"/><rect x="161.17" y="384.90" width="5.2" height="5.2" fill="none" stroke="#3a9d1f" stroke-width="1.25"/><rect x="166.14" y="384.10" width="5.2" height="5.2" fill="none" stroke="#3a9d1f" stroke-width="1.25"/><rect x="171.11" y="383.40" width="5.2" height="5.2" fill="none" stroke="#3a9d1f" stroke-width="1.25"/><rect x="176.08" y="381.60" width="5.2" height="5.2" fill="none" stroke="#3a9d1f" stroke-width="1.25"/><rect x="181.04" y="378.90" width="5.2" height="5.2" fill="none" stroke="#3a9d1f" stroke-width="1.25"/><rect x="186.01" y="378.00" width="5.2" height="5.2" fill="none" stroke="#3a9d1f" stroke-width="1.25"/><rect x="190.98" y="378.80" width="5.2" height="5.2" fill="none" stroke="#3a9d1f" stroke-width="1.25"/><rect x="195.94" y="380.40" width="5.2" height="5.2" fill="none" stroke="#3a9d1f" stroke-width="1.25"/><rect x="200.91" y="384.80" width="5.2" height="5.2" fill="none" stroke="#3a9d1f" stroke-width="1.25"/><rect x="205.88" y="389.20" width="5.2" height="5.2" fill="none" stroke="#3a9d1f" stroke-width="1.25"/><rect x="210.84" y="394.30" width="5.2" height="5.2" fill="none" stroke="#3a9d1f" stroke-width="1.25"/><rect x="215.81" y="398.60" width="5.2" height="5.2" fill="none" stroke="#3a9d1f" stroke-width="1.25"/><rect x="220.78" y="404.80" width="5.2" height="5.2" fill="none" stroke="#3a9d1f" stroke-width="1.25"/><rect x="225.75" y="408.90" width="5.2" height="5.2" fill="none" stroke="#3a9d1f" stroke-width="1.25"/><rect x="230.71" y="412.40" width="5.2" height="5.2" fill="none" stroke="#3a9d1f" stroke-width="1.25"/><rect x="235.68" y="416.30" width="5.2" height="5.2" fill="none" stroke="#3a9d1f" stroke-width="1.25"/><rect x="240.65" y="419.30" width="5.2" height="5.2" fill="none" stroke="#3a9d1f" stroke-width="1.25"/><rect x="245.61" y="421.60" width="5.2" height="5.2" fill="none" stroke="#3a9d1f" stroke-width="1.25"/><rect x="250.58" y="422.40" width="5.2" height="5.2" fill="none" stroke="#3a9d1f" stroke-width="1.25"/><rect x="258.03" y="425.70" width="5.2" height="5.2" fill="none" stroke="#3a9d1f" stroke-width="1.25"/><rect x="267.96" y="429.10" width="5.2" height="5.2" fill="none" stroke="#3a9d1f" stroke-width="1.25"/><rect x="277.90" y="438.40" width="5.2" height="5.2" fill="none" stroke="#3a9d1f" stroke-width="1.25"/><rect x="287.83" y="453.10" width="5.2" height="5.2" fill="none" stroke="#3a9d1f" stroke-width="1.25"/><rect x="297.77" y="462.50" width="5.2" height="5.2" fill="none" stroke="#3a9d1f" stroke-width="1.25"/><path d="M310.30,471.00V475.00M308.80,471.00H311.80M308.80,475.00H311.80" stroke="#3a9d1f" stroke-width="1" fill="none"/><rect x="307.70" y="470.40" width="5.2" height="5.2" fill="none" stroke="#3a9d1f" stroke-width="1.25"/><path d="M320.23,467.80V472.20M318.73,467.80H321.73M318.73,472.20H321.73" stroke="#3a9d1f" stroke-width="1" fill="none"/><rect x="317.63" y="467.40" width="5.2" height="5.2" fill="none" stroke="#3a9d1f" stroke-width="1.25"/><path d="M330.17,457.20V462.40M328.67,457.20H331.67M328.67,462.40H331.67" stroke="#3a9d1f" stroke-width="1" fill="none"/><rect x="327.57" y="457.20" width="5.2" height="5.2" fill="none" stroke="#3a9d1f" stroke-width="1.25"/><path d="M340.10,436.10V442.10M338.60,436.10H341.60M338.60,442.10H341.60" stroke="#3a9d1f" stroke-width="1" fill="none"/><rect x="337.50" y="436.50" width="5.2" height="5.2" fill="none" stroke="#3a9d1f" stroke-width="1.25"/><path d="M350.04,440.20V446.60M348.54,440.20H351.54M348.54,446.60H351.54" stroke="#3a9d1f" stroke-width="1" fill="none"/><rect x="347.44" y="440.80" width="5.2" height="5.2" fill="none" stroke="#3a9d1f" stroke-width="1.25"/><path d="M359.97,446.90V454.30M358.47,446.90H361.47M358.47,454.30H361.47" stroke="#3a9d1f" stroke-width="1" fill="none"/><rect x="357.37" y="448.00" width="5.2" height="5.2" fill="none" stroke="#3a9d1f" stroke-width="1.25"/></g>
<polyline clip-path="url(#cr)" points="54.50,423.60 59.47,437.90 64.43,406.70 69.40,389.30 74.37,379.70 79.33,376.60 84.30,377.10 89.27,381.20 94.24,384.20 99.20,388.30 104.17,390.50 109.14,392.00 114.10,393.90 119.07,393.90 124.04,394.40 129.00,395.10 133.97,397.90 138.94,398.20 143.91,398.90 148.87,399.40 153.84,400.00 158.81,400.00 163.77,397.40 168.74,395.10 173.71,393.40 178.68,389.90 183.64,387.10 188.61,384.30 193.58,384.20 198.54,384.30 203.51,385.70 208.48,388.10 213.44,392.70 218.41,396.10 223.38,400.40 228.34,402.10 233.31,404.40 238.28,405.90 243.25,408.90 248.21,410.90 253.18,412.00 260.63,412.00 270.56,412.00 280.50,418.50 290.43,428.50 300.37,436.90 310.30,438.00 320.23,436.70 330.17,424.20 340.10,410.40 350.04,405.20 359.97,417.60" fill="none" stroke="#0000ff" stroke-width="1.15"/>
<g clip-path="url(#crm)"><polygon points="54.50,420.40 57.30,426.20 51.70,426.20" fill="#0000ff"/><polygon points="59.47,434.70 62.27,440.50 56.67,440.50" fill="#0000ff"/><polygon points="64.43,403.50 67.23,409.30 61.63,409.30" fill="#0000ff"/><polygon points="69.40,386.10 72.20,391.90 66.60,391.90" fill="#0000ff"/><polygon points="74.37,376.50 77.17,382.30 71.57,382.30" fill="#0000ff"/><polygon points="79.33,373.40 82.13,379.20 76.53,379.20" fill="#0000ff"/><polygon points="84.30,373.90 87.10,379.70 81.50,379.70" fill="#0000ff"/><polygon points="89.27,378.00 92.07,383.80 86.47,383.80" fill="#0000ff"/><polygon points="94.24,381.00 97.04,386.80 91.44,386.80" fill="#0000ff"/><polygon points="99.20,385.10 102.00,390.90 96.40,390.90" fill="#0000ff"/><polygon points="104.17,387.30 106.97,393.10 101.37,393.10" fill="#0000ff"/><polygon points="109.14,388.80 111.94,394.60 106.34,394.60" fill="#0000ff"/><polygon points="114.10,390.70 116.90,396.50 111.30,396.50" fill="#0000ff"/><polygon points="119.07,390.70 121.87,396.50 116.27,396.50" fill="#0000ff"/><polygon points="124.04,391.20 126.84,397.00 121.24,397.00" fill="#0000ff"/><polygon points="129.00,391.90 131.81,397.70 126.20,397.70" fill="#0000ff"/><polygon points="133.97,394.70 136.77,400.50 131.17,400.50" fill="#0000ff"/><polygon points="138.94,395.00 141.74,400.80 136.14,400.80" fill="#0000ff"/><polygon points="143.91,395.70 146.71,401.50 141.11,401.50" fill="#0000ff"/><polygon points="148.87,396.20 151.67,402.00 146.07,402.00" fill="#0000ff"/><polygon points="153.84,396.80 156.64,402.60 151.04,402.60" fill="#0000ff"/><polygon points="158.81,396.80 161.61,402.60 156.01,402.60" fill="#0000ff"/><polygon points="163.77,394.20 166.57,400.00 160.97,400.00" fill="#0000ff"/><polygon points="168.74,391.90 171.54,397.70 165.94,397.70" fill="#0000ff"/><polygon points="173.71,390.20 176.51,396.00 170.91,396.00" fill="#0000ff"/><polygon points="178.68,386.70 181.48,392.50 175.88,392.50" fill="#0000ff"/><polygon points="183.64,383.90 186.44,389.70 180.84,389.70" fill="#0000ff"/><polygon points="188.61,381.10 191.41,386.90 185.81,386.90" fill="#0000ff"/><polygon points="193.58,381.00 196.38,386.80 190.78,386.80" fill="#0000ff"/><polygon points="198.54,381.10 201.34,386.90 195.74,386.90" fill="#0000ff"/><polygon points="203.51,382.50 206.31,388.30 200.71,388.30" fill="#0000ff"/><polygon points="208.48,384.90 211.28,390.70 205.68,390.70" fill="#0000ff"/><polygon points="213.44,389.50 216.24,395.30 210.64,395.30" fill="#0000ff"/><polygon points="218.41,392.90 221.21,398.70 215.61,398.70" fill="#0000ff"/><polygon points="223.38,397.20 226.18,403.00 220.58,403.00" fill="#0000ff"/><polygon points="228.34,398.90 231.15,404.70 225.54,404.70" fill="#0000ff"/><polygon points="233.31,401.20 236.11,407.00 230.51,407.00" fill="#0000ff"/><polygon points="238.28,402.70 241.08,408.50 235.48,408.50" fill="#0000ff"/><polygon points="243.25,405.70 246.05,411.50 240.45,411.50" fill="#0000ff"/><polygon points="248.21,407.70 251.01,413.50 245.41,413.50" fill="#0000ff"/><polygon points="253.18,408.80 255.98,414.60 250.38,414.60" fill="#0000ff"/><polygon points="260.63,408.80 263.43,414.60 257.83,414.60" fill="#0000ff"/><polygon points="270.56,408.80 273.36,414.60 267.76,414.60" fill="#0000ff"/><polygon points="280.50,415.30 283.30,421.10 277.70,421.10" fill="#0000ff"/><polygon points="290.43,425.30 293.23,431.10 287.63,431.10" fill="#0000ff"/><path d="M300.37,435.40V438.40M298.87,435.40H301.87M298.87,438.40H301.87" stroke="#0000ff" stroke-width="1" fill="none"/><polygon points="300.37,433.70 303.17,439.50 297.57,439.50" fill="#0000ff"/><path d="M310.30,436.00V440.00M308.80,436.00H311.80M308.80,440.00H311.80" stroke="#0000ff" stroke-width="1" fill="none"/><polygon points="310.30,434.80 313.10,440.60 307.50,440.60" fill="#0000ff"/><path d="M320.23,434.50V438.90M318.73,434.50H321.73M318.73,438.90H321.73" stroke="#0000ff" stroke-width="1" fill="none"/><polygon points="320.23,433.50 323.03,439.30 317.43,439.30" fill="#0000ff"/><path d="M330.17,421.60V426.80M328.67,421.60H331.67M328.67,426.80H331.67" stroke="#0000ff" stroke-width="1" fill="none"/><polygon points="330.17,421.00 332.97,426.80 327.37,426.80" fill="#0000ff"/><path d="M340.10,407.40V413.40M338.60,407.40H341.60M338.60,413.40H341.60" stroke="#0000ff" stroke-width="1" fill="none"/><polygon points="340.10,407.20 342.90,413.00 337.30,413.00" fill="#0000ff"/><path d="M350.04,401.50V408.90M348.54,401.50H351.54M348.54,408.90H351.54" stroke="#0000ff" stroke-width="1" fill="none"/><polygon points="350.04,402.00 352.84,407.80 347.24,407.80" fill="#0000ff"/><path d="M359.97,413.30V421.90M358.47,413.30H361.47M358.47,421.90H361.47" stroke="#0000ff" stroke-width="1" fill="none"/><polygon points="359.97,414.40 362.77,420.20 357.17,420.20" fill="#0000ff"/></g>
<polyline clip-path="url(#cr)" points="54.50,719.32 59.47,543.66 64.43,464.20 69.40,421.50 74.37,390.40 79.33,367.50 84.30,349.00 89.27,335.30 94.24,324.50 99.20,318.20 104.17,312.50 109.14,318.50 114.10,325.80 119.07,337.40 124.04,351.60 129.00,370.40 133.97,391.30 138.94,412.20 143.91,433.90 148.87,453.80 153.84,470.00 158.81,477.11 163.77,490.75 168.74,500.67 173.71,505.22 178.68,511.42 183.64,514.31 188.61,515.55 193.58,519.68 198.54,515.14 203.51,518.44 208.48,519.27 213.44,520.92 218.41,523.82 223.38,525.88 228.34,527.54 233.31,530.84 238.28,528.78 243.25,528.36 248.21,527.54 253.18,533.32 260.63,529.60 270.56,527.95 280.50,527.95 290.43,524.23 300.37,526.71 310.30,528.36 320.23,512.24 330.17,501.08 340.10,473.60 350.04,460.60 359.97,454.90" fill="none" stroke="#ff0000" stroke-width="1.1" stroke-dasharray="1.2,1.3"/>
<g clip-path="url(#crm)"><polygon points="64.43,461.00 66.58,464.20 64.43,467.40 62.28,464.20" fill="#ff0000"/><polygon points="69.40,418.30 71.55,421.50 69.40,424.70 67.25,421.50" fill="#ff0000"/><polygon points="74.37,387.20 76.52,390.40 74.37,393.60 72.22,390.40" fill="#ff0000"/><polygon points="79.33,364.30 81.48,367.50 79.33,370.70 77.18,367.50" fill="#ff0000"/><polygon points="84.30,345.80 86.45,349.00 84.30,352.20 82.15,349.00" fill="#ff0000"/><polygon points="89.27,332.10 91.42,335.30 89.27,338.50 87.12,335.30" fill="#ff0000"/><polygon points="94.24,321.30 96.39,324.50 94.24,327.70 92.09,324.50" fill="#ff0000"/><polygon points="99.20,315.00 101.35,318.20 99.20,321.40 97.05,318.20" fill="#ff0000"/><polygon points="109.14,315.30 111.29,318.50 109.14,321.70 106.99,318.50" fill="#ff0000"/><polygon points="114.10,322.60 116.25,325.80 114.10,329.00 111.95,325.80" fill="#ff0000"/><polygon points="119.07,334.20 121.22,337.40 119.07,340.60 116.92,337.40" fill="#ff0000"/><polygon points="124.04,348.40 126.19,351.60 124.04,354.80 121.89,351.60" fill="#ff0000"/><polygon points="129.00,367.20 131.16,370.40 129.00,373.60 126.85,370.40" fill="#ff0000"/><polygon points="133.97,388.10 136.12,391.30 133.97,394.50 131.82,391.30" fill="#ff0000"/><polygon points="138.94,409.00 141.09,412.20 138.94,415.40 136.79,412.20" fill="#ff0000"/><polygon points="143.91,430.70 146.06,433.90 143.91,437.10 141.76,433.90" fill="#ff0000"/><polygon points="148.87,450.60 151.02,453.80 148.87,457.00 146.72,453.80" fill="#ff0000"/><polygon points="153.84,466.80 155.99,470.00 153.84,473.20 151.69,470.00" fill="#ff0000"/><polygon points="158.81,473.91 160.96,477.11 158.81,480.31 156.66,477.11" fill="#ff0000"/><path d="M340.10,470.10V477.10M338.60,470.10H341.60M338.60,477.10H341.60" stroke="#ff0000" stroke-width="1" fill="none"/><polygon points="340.10,470.40 342.25,473.60 340.10,476.80 337.95,473.60" fill="#ff0000"/><path d="M350.04,456.20V465.00M348.54,456.20H351.54M348.54,465.00H351.54" stroke="#ff0000" stroke-width="1" fill="none"/><polygon points="350.04,457.40 352.19,460.60 350.04,463.80 347.89,460.60" fill="#ff0000"/><path d="M359.97,451.20V458.60M358.47,451.20H361.47M358.47,458.60H361.47" stroke="#ff0000" stroke-width="1" fill="none"/><polygon points="359.97,451.70 362.12,454.90 359.97,458.10 357.82,454.90" fill="#ff0000"/></g>
<g clip-path="url(#ct)">
<rect x="51.65" y="100.85" width="5.7" height="5.7" fill="#000"/><rect x="56.62" y="130.35" width="5.7" height="5.7" fill="#000"/><rect x="61.58" y="131.65" width="5.7" height="5.7" fill="#000"/><rect x="66.55" y="131.65" width="5.7" height="5.7" fill="#000"/><rect x="71.52" y="131.15" width="5.7" height="5.7" fill="#000"/><rect x="76.48" y="131.15" width="5.7" height="5.7" fill="#000"/><rect x="81.45" y="131.35" width="5.7" height="5.7" fill="#000"/><rect x="86.42" y="132.35" width="5.7" height="5.7" fill="#000"/><rect x="91.39" y="133.75" width="5.7" height="5.7" fill="#000"/><rect x="96.35" y="136.45" width="5.7" height="5.7" fill="#000"/><rect x="101.32" y="138.95" width="5.7" height="5.7" fill="#000"/><rect x="106.29" y="141.55" width="5.7" height="5.7" fill="#000"/><rect x="111.25" y="143.75" width="5.7" height="5.7" fill="#000"/><rect x="116.22" y="145.75" width="5.7" height="5.7" fill="#000"/><rect x="121.19" y="147.65" width="5.7" height="5.7" fill="#000"/><rect x="126.16" y="149.45" width="5.7" height="5.7" fill="#000"/><rect x="131.12" y="151.15" width="5.7" height="5.7" fill="#000"/><rect x="136.09" y="152.85" width="5.7" height="5.7" fill="#000"/><rect x="141.06" y="154.55" width="5.7" height="5.7" fill="#000"/><rect x="146.02" y="156.25" width="5.7" height="5.7" fill="#000"/><rect x="150.99" y="158.05" width="5.7" height="5.7" fill="#000"/><rect x="155.96" y="159.85" width="5.7" height="5.7" fill="#000"/><rect x="160.92" y="161.75" width="5.7" height="5.7" fill="#000"/><rect x="165.89" y="163.65" width="5.7" height="5.7" fill="#000"/><rect x="170.86" y="165.55" width="5.7" height="5.7" fill="#000"/><rect x="175.83" y="167.45" width="5.7" height="5.7" fill="#000"/><rect x="180.79" y="169.45" width="5.7" height="5.7" fill="#000"/><rect x="185.76" y="171.45" width="5.7" height="5.7" fill="#000"/><rect x="190.73" y="173.55" width="5.7" height="5.7" fill="#000"/><rect x="195.69" y="175.65" width="5.7" height="5.7" fill="#000"/><rect x="200.66" y="177.65" width="5.7" height="5.7" fill="#000"/><rect x="205.63" y="179.45" width="5.7" height="5.7" fill="#000"/><rect x="210.59" y="181.05" width="5.7" height="5.7" fill="#000"/><rect x="215.56" y="182.35" width="5.7" height="5.7" fill="#000"/><rect x="220.53" y="183.75" width="5.7" height="5.7" fill="#000"/><rect x="225.50" y="185.55" width="5.7" height="5.7" fill="#000"/><rect x="230.46" y="187.55" width="5.7" height="5.7" fill="#000"/><rect x="235.43" y="189.15" width="5.7" height="5.7" fill="#000"/><rect x="240.40" y="190.75" width="5.7" height="5.7" fill="#000"/><rect x="245.36" y="192.45" width="5.7" height="5.7" fill="#000"/><rect x="250.33" y="194.15" width="5.7" height="5.7" fill="#000"/><rect x="257.78" y="197.75" width="5.7" height="5.7" fill="#000"/><rect x="267.71" y="202.35" width="5.7" height="5.7" fill="#000"/><rect x="277.65" y="206.15" width="5.7" height="5.7" fill="#000"/><rect x="287.58" y="209.75" width="5.7" height="5.7" fill="#000"/><rect x="297.52" y="213.55" width="5.7" height="5.7" fill="#000"/><rect x="307.45" y="218.75" width="5.7" height="5.7" fill="#000"/><rect x="317.38" y="225.95" width="5.7" height="5.7" fill="#000"/><rect x="327.32" y="234.95" width="5.7" height="5.7" fill="#000"/><rect x="337.25" y="244.35" width="5.7" height="5.7" fill="#000"/><rect x="347.19" y="252.55" width="5.7" height="5.7" fill="#000"/><rect x="357.12" y="255.95" width="5.7" height="5.7" fill="#000"/>
<polyline points="54.50,106.54 59.47,136.24 64.43,132.75 69.40,133.35 74.37,133.09 79.33,133.58 84.30,134.14 89.27,135.50 94.24,136.90 99.20,138.88 104.17,140.41 109.14,142.53 114.10,144.29 119.07,146.05 124.04,148.38 129.00,150.55 133.97,152.71 138.94,154.70 143.91,156.59 148.87,158.46 153.84,160.09 158.81,161.89 163.77,162.97 168.74,164.38 173.71,165.73 178.68,167.07 183.64,168.25 188.61,169.50 193.58,171.86 198.54,173.79 203.51,176.81 208.48,178.80 213.44,181.61 218.41,184.29 223.38,185.98 228.34,187.59 233.31,191.07 238.28,193.05 243.25,194.46 248.21,196.52 253.18,198.42 260.63,201.39 270.56,205.99 280.50,211.48 290.43,217.62 300.37,221.57 310.30,228.29 320.23,231.38 330.17,241.01 340.10,245.54 350.04,253.26 359.97,251.58" fill="none" stroke="#f28a8a" stroke-width="1.2"/>
<polygon points="54.50,103.94 56.60,106.54 54.50,109.14 52.40,106.54" fill="none" stroke="#f28a8a" stroke-width="1.1"/><polygon points="59.47,133.64 61.57,136.24 59.47,138.84 57.37,136.24" fill="none" stroke="#f28a8a" stroke-width="1.1"/><polygon points="64.43,130.15 66.53,132.75 64.43,135.35 62.33,132.75" fill="none" stroke="#f28a8a" stroke-width="1.1"/><polygon points="69.40,130.75 71.50,133.35 69.40,135.95 67.30,133.35" fill="none" stroke="#f28a8a" stroke-width="1.1"/><polygon points="74.37,130.49 76.47,133.09 74.37,135.69 72.27,133.09" fill="none" stroke="#f28a8a" stroke-width="1.1"/><polygon points="79.33,130.98 81.43,133.58 79.33,136.18 77.23,133.58" fill="none" stroke="#f28a8a" stroke-width="1.1"/><polygon points="84.30,131.54 86.40,134.14 84.30,136.74 82.20,134.14" fill="none" stroke="#f28a8a" stroke-width="1.1"/><polygon points="89.27,132.90 91.37,135.50 89.27,138.10 87.17,135.50" fill="none" stroke="#f28a8a" stroke-width="1.1"/><polygon points="94.24,134.30 96.34,136.90 94.24,139.50 92.14,136.90" fill="none" stroke="#f28a8a" stroke-width="1.1"/><polygon points="99.20,136.28 101.30,138.88 99.20,141.48 97.10,138.88" fill="none" stroke="#f28a8a" stroke-width="1.1"/><polygon points="104.17,137.81 106.27,140.41 104.17,143.01 102.07,140.41" fill="none" stroke="#f28a8a" stroke-width="1.1"/><polygon points="109.14,139.93 111.24,142.53 109.14,145.12 107.04,142.53" fill="none" stroke="#f28a8a" stroke-width="1.1"/><polygon points="114.10,141.69 116.20,144.29 114.10,146.89 112.00,144.29" fill="none" stroke="#f28a8a" stroke-width="1.1"/><polygon points="119.07,143.45 121.17,146.05 119.07,148.65 116.97,146.05" fill="none" stroke="#f28a8a" stroke-width="1.1"/><polygon points="124.04,145.78 126.14,148.38 124.04,150.98 121.94,148.38" fill="none" stroke="#f28a8a" stroke-width="1.1"/><polygon points="129.00,147.95 131.10,150.55 129.00,153.15 126.91,150.55" fill="none" stroke="#f28a8a" stroke-width="1.1"/><polygon points="133.97,150.11 136.07,152.71 133.97,155.31 131.87,152.71" fill="none" stroke="#f28a8a" stroke-width="1.1"/><polygon points="138.94,152.10 141.04,154.70 138.94,157.30 136.84,154.70" fill="none" stroke="#f28a8a" stroke-width="1.1"/><polygon points="143.91,153.99 146.01,156.59 143.91,159.19 141.81,156.59" fill="none" stroke="#f28a8a" stroke-width="1.1"/><polygon points="148.87,155.86 150.97,158.46 148.87,161.06 146.77,158.46" fill="none" stroke="#f28a8a" stroke-width="1.1"/><polygon points="153.84,157.49 155.94,160.09 153.84,162.69 151.74,160.09" fill="none" stroke="#f28a8a" stroke-width="1.1"/><polygon points="158.81,159.29 160.91,161.89 158.81,164.49 156.71,161.89" fill="none" stroke="#f28a8a" stroke-width="1.1"/><polygon points="163.77,160.37 165.87,162.97 163.77,165.57 161.67,162.97" fill="none" stroke="#f28a8a" stroke-width="1.1"/><polygon points="168.74,161.78 170.84,164.38 168.74,166.98 166.64,164.38" fill="none" stroke="#f28a8a" stroke-width="1.1"/><polygon points="173.71,163.13 175.81,165.73 173.71,168.33 171.61,165.73" fill="none" stroke="#f28a8a" stroke-width="1.1"/><polygon points="178.68,164.47 180.78,167.07 178.68,169.67 176.58,167.07" fill="none" stroke="#f28a8a" stroke-width="1.1"/><polygon points="183.64,165.65 185.74,168.25 183.64,170.85 181.54,168.25" fill="none" stroke="#f28a8a" stroke-width="1.1"/><polygon points="188.61,166.90 190.71,169.50 188.61,172.10 186.51,169.50" fill="none" stroke="#f28a8a" stroke-width="1.1"/><polygon points="193.58,169.26 195.68,171.86 193.58,174.46 191.48,171.86" fill="none" stroke="#f28a8a" stroke-width="1.1"/><polygon points="198.54,171.19 200.64,173.79 198.54,176.39 196.44,173.79" fill="none" stroke="#f28a8a" stroke-width="1.1"/><polygon points="203.51,174.21 205.61,176.81 203.51,179.41 201.41,176.81" fill="none" stroke="#f28a8a" stroke-width="1.1"/><polygon points="208.48,176.20 210.58,178.80 208.48,181.40 206.38,178.80" fill="none" stroke="#f28a8a" stroke-width="1.1"/><polygon points="213.44,179.01 215.54,181.61 213.44,184.21 211.34,181.61" fill="none" stroke="#f28a8a" stroke-width="1.1"/><polygon points="218.41,181.69 220.51,184.29 218.41,186.89 216.31,184.29" fill="none" stroke="#f28a8a" stroke-width="1.1"/><polygon points="223.38,183.38 225.48,185.98 223.38,188.58 221.28,185.98" fill="none" stroke="#f28a8a" stroke-width="1.1"/><polygon points="228.34,184.99 230.44,187.59 228.34,190.19 226.25,187.59" fill="none" stroke="#f28a8a" stroke-width="1.1"/><polygon points="233.31,188.47 235.41,191.07 233.31,193.67 231.21,191.07" fill="none" stroke="#f28a8a" stroke-width="1.1"/><polygon points="238.28,190.45 240.38,193.05 238.28,195.65 236.18,193.05" fill="none" stroke="#f28a8a" stroke-width="1.1"/><polygon points="243.25,191.86 245.35,194.46 243.25,197.06 241.15,194.46" fill="none" stroke="#f28a8a" stroke-width="1.1"/><polygon points="248.21,193.92 250.31,196.52 248.21,199.12 246.11,196.52" fill="none" stroke="#f28a8a" stroke-width="1.1"/><polygon points="253.18,195.82 255.28,198.42 253.18,201.02 251.08,198.42" fill="none" stroke="#f28a8a" stroke-width="1.1"/><polygon points="260.63,198.79 262.73,201.39 260.63,203.99 258.53,201.39" fill="none" stroke="#f28a8a" stroke-width="1.1"/><polygon points="270.56,203.39 272.66,205.99 270.56,208.59 268.46,205.99" fill="none" stroke="#f28a8a" stroke-width="1.1"/><polygon points="280.50,208.88 282.60,211.48 280.50,214.08 278.40,211.48" fill="none" stroke="#f28a8a" stroke-width="1.1"/><polygon points="290.43,215.02 292.53,217.62 290.43,220.22 288.33,217.62" fill="none" stroke="#f28a8a" stroke-width="1.1"/><polygon points="300.37,218.97 302.47,221.57 300.37,224.17 298.27,221.57" fill="none" stroke="#f28a8a" stroke-width="1.1"/><polygon points="310.30,225.69 312.40,228.29 310.30,230.89 308.20,228.29" fill="none" stroke="#f28a8a" stroke-width="1.1"/><polygon points="320.23,228.78 322.33,231.38 320.23,233.98 318.13,231.38" fill="none" stroke="#f28a8a" stroke-width="1.1"/><polygon points="330.17,238.41 332.27,241.01 330.17,243.61 328.07,241.01" fill="none" stroke="#f28a8a" stroke-width="1.1"/><polygon points="340.10,242.94 342.20,245.54 340.10,248.14 338.00,245.54" fill="none" stroke="#f28a8a" stroke-width="1.1"/><polygon points="350.04,250.66 352.14,253.26 350.04,255.86 347.94,253.26" fill="none" stroke="#f28a8a" stroke-width="1.1"/><polygon points="359.97,248.98 362.07,251.58 359.97,254.18 357.87,251.58" fill="none" stroke="#f28a8a" stroke-width="1.1"/>
<polyline points="54.50,108.36 59.47,139.62 64.43,132.75 69.40,130.93 74.37,130.92 79.33,131.96 84.30,133.41 89.27,135.45 94.24,136.90 99.20,138.97 104.17,140.65 109.14,142.57 114.10,144.05 119.07,145.66 124.04,147.34 129.00,149.14 133.97,151.16 138.94,153.03 143.91,154.99 148.87,156.98 153.84,158.78 158.81,160.58 163.77,162.12 168.74,163.83 173.71,165.56 178.68,167.02 183.64,168.37 188.61,170.15 193.58,172.44 198.54,174.93 203.51,178.00 208.48,180.86 213.44,183.69 218.41,186.03 223.38,188.93 228.34,191.73 233.31,194.57 238.28,197.12 243.25,199.44 248.21,201.70 253.18,203.59 260.63,207.99 270.56,213.41 280.50,219.46 290.43,226.62 300.37,232.69 310.30,239.81 320.23,246.28 330.17,252.81 340.10,257.20 350.04,266.44 359.97,271.59" fill="none" stroke="#3a9d1f" stroke-width="1.1" stroke-dasharray="3,2"/>
<rect x="51.90" y="105.76" width="5.2" height="5.2" fill="none" stroke="#3a9d1f" stroke-width="1.25"/><rect x="56.87" y="137.02" width="5.2" height="5.2" fill="none" stroke="#3a9d1f" stroke-width="1.25"/><rect x="61.83" y="130.15" width="5.2" height="5.2" fill="none" stroke="#3a9d1f" stroke-width="1.25"/><rect x="66.80" y="128.33" width="5.2" height="5.2" fill="none" stroke="#3a9d1f" stroke-width="1.25"/><rect x="71.77" y="128.32" width="5.2" height="5.2" fill="none" stroke="#3a9d1f" stroke-width="1.25"/><rect x="76.73" y="129.36" width="5.2" height="5.2" fill="none" stroke="#3a9d1f" stroke-width="1.25"/><rect x="81.70" y="130.81" width="5.2" height="5.2" fill="none" stroke="#3a9d1f" stroke-width="1.25"/><rect x="86.67" y="132.85" width="5.2" height="5.2" fill="none" stroke="#3a9d1f" stroke-width="1.25"/><rect x="91.64" y="134.30" width="5.2" height="5.2" fill="none" stroke="#3a9d1f" stroke-width="1.25"/><rect x="96.60" y="136.37" width="5.2" height="5.2" fill="none" stroke="#3a9d1f" stroke-width="1.25"/><rect x="101.57" y="138.05" width="5.2" height="5.2" fill="none" stroke="#3a9d1f" stroke-width="1.25"/><rect x="106.54" y="139.97" width="5.2" height="5.2" fill="none" stroke="#3a9d1f" stroke-width="1.25"/><rect x="111.50" y="141.45" width="5.2" height="5.2" fill="none" stroke="#3a9d1f" stroke-width="1.25"/><rect x="116.47" y="143.06" width="5.2" height="5.2" fill="none" stroke="#3a9d1f" stroke-width="1.25"/><rect x="121.44" y="144.74" width="5.2" height="5.2" fill="none" stroke="#3a9d1f" stroke-width="1.25"/><rect x="126.41" y="146.54" width="5.2" height="5.2" fill="none" stroke="#3a9d1f" stroke-width="1.25"/><rect x="131.37" y="148.56" width="5.2" height="5.2" fill="none" stroke="#3a9d1f" stroke-width="1.25"/><rect x="136.34" y="150.43" width="5.2" height="5.2" fill="none" stroke="#3a9d1f" stroke-width="1.25"/><rect x="141.31" y="152.39" width="5.2" height="5.2" fill="none" stroke="#3a9d1f" stroke-width="1.25"/><rect x="146.27" y="154.38" width="5.2" height="5.2" fill="none" stroke="#3a9d1f" stroke-width="1.25"/><rect x="151.24" y="156.18" width="5.2" height="5.2" fill="none" stroke="#3a9d1f" stroke-width="1.25"/><rect x="156.21" y="157.98" width="5.2" height="5.2" fill="none" stroke="#3a9d1f" stroke-width="1.25"/><rect x="161.17" y="159.52" width="5.2" height="5.2" fill="none" stroke="#3a9d1f" stroke-width="1.25"/><rect x="166.14" y="161.23" width="5.2" height="5.2" fill="none" stroke="#3a9d1f" stroke-width="1.25"/><rect x="171.11" y="162.96" width="5.2" height="5.2" fill="none" stroke="#3a9d1f" stroke-width="1.25"/><rect x="176.08" y="164.42" width="5.2" height="5.2" fill="none" stroke="#3a9d1f" stroke-width="1.25"/><rect x="181.04" y="165.77" width="5.2" height="5.2" fill="none" stroke="#3a9d1f" stroke-width="1.25"/><rect x="186.01" y="167.55" width="5.2" height="5.2" fill="none" stroke="#3a9d1f" stroke-width="1.25"/><rect x="190.98" y="169.84" width="5.2" height="5.2" fill="none" stroke="#3a9d1f" stroke-width="1.25"/><rect x="195.94" y="172.33" width="5.2" height="5.2" fill="none" stroke="#3a9d1f" stroke-width="1.25"/><rect x="200.91" y="175.40" width="5.2" height="5.2" fill="none" stroke="#3a9d1f" stroke-width="1.25"/><rect x="205.88" y="178.26" width="5.2" height="5.2" fill="none" stroke="#3a9d1f" stroke-width="1.25"/><rect x="210.84" y="181.09" width="5.2" height="5.2" fill="none" stroke="#3a9d1f" stroke-width="1.25"/><rect x="215.81" y="183.43" width="5.2" height="5.2" fill="none" stroke="#3a9d1f" stroke-width="1.25"/><rect x="220.78" y="186.33" width="5.2" height="5.2" fill="none" stroke="#3a9d1f" stroke-width="1.25"/><rect x="225.75" y="189.13" width="5.2" height="5.2" fill="none" stroke="#3a9d1f" stroke-width="1.25"/><rect x="230.71" y="191.97" width="5.2" height="5.2" fill="none" stroke="#3a9d1f" stroke-width="1.25"/><rect x="235.68" y="194.52" width="5.2" height="5.2" fill="none" stroke="#3a9d1f" stroke-width="1.25"/><rect x="240.65" y="196.84" width="5.2" height="5.2" fill="none" stroke="#3a9d1f" stroke-width="1.25"/><rect x="245.61" y="199.10" width="5.2" height="5.2" fill="none" stroke="#3a9d1f" stroke-width="1.25"/><rect x="250.58" y="200.99" width="5.2" height="5.2" fill="none" stroke="#3a9d1f" stroke-width="1.25"/><rect x="258.03" y="205.39" width="5.2" height="5.2" fill="none" stroke="#3a9d1f" stroke-width="1.25"/><rect x="267.96" y="210.81" width="5.2" height="5.2" fill="none" stroke="#3a9d1f" stroke-width="1.25"/><rect x="277.90" y="216.86" width="5.2" height="5.2" fill="none" stroke="#3a9d1f" stroke-width="1.25"/><rect x="287.83" y="224.02" width="5.2" height="5.2" fill="none" stroke="#3a9d1f" stroke-width="1.25"/><rect x="297.77" y="230.09" width="5.2" height="5.2" fill="none" stroke="#3a9d1f" stroke-width="1.25"/><rect x="307.70" y="237.21" width="5.2" height="5.2" fill="none" stroke="#3a9d1f" stroke-width="1.25"/><rect x="317.63" y="243.68" width="5.2" height="5.2" fill="none" stroke="#3a9d1f" stroke-width="1.25"/><rect x="327.57" y="250.21" width="5.2" height="5.2" fill="none" stroke="#3a9d1f" stroke-width="1.25"/><rect x="337.50" y="254.60" width="5.2" height="5.2" fill="none" stroke="#3a9d1f" stroke-width="1.25"/><rect x="347.44" y="263.84" width="5.2" height="5.2" fill="none" stroke="#3a9d1f" stroke-width="1.25"/><rect x="357.37" y="268.99" width="5.2" height="5.2" fill="none" stroke="#3a9d1f" stroke-width="1.25"/>
<polyline points="54.50,109.95 59.47,142.91 64.43,136.67 69.40,132.46 74.37,129.63 79.33,128.88 84.30,129.20 89.27,131.20 94.24,133.32 99.20,137.01 104.17,140.05 109.14,143.01 114.10,145.67 119.07,147.67 124.04,149.69 129.00,151.66 133.97,154.04 138.94,155.81 143.91,157.68 148.87,159.50 153.84,161.44 158.81,163.24 163.77,164.52 168.74,165.86 173.71,167.35 178.68,168.40 183.64,169.72 188.61,171.05 193.58,173.12 198.54,175.25 203.51,177.58 208.48,179.97 213.44,182.68 218.41,184.80 223.38,187.24 228.34,189.45 233.31,192.01 238.28,193.97 243.25,196.30 248.21,198.48 253.18,200.45 260.63,204.05 270.56,208.65 280.50,214.02 290.43,220.04 300.37,225.87 310.30,231.34 320.23,238.22 330.17,244.20 340.10,250.26 350.04,257.20 359.97,263.60" fill="none" stroke="#0000ff" stroke-width="1.15"/>
<polygon points="54.50,106.75 57.30,112.55 51.70,112.55" fill="#0000ff"/><polygon points="59.47,139.71 62.27,145.51 56.67,145.51" fill="#0000ff"/><polygon points="64.43,133.47 67.23,139.27 61.63,139.27" fill="#0000ff"/><polygon points="69.40,129.26 72.20,135.06 66.60,135.06" fill="#0000ff"/><polygon points="74.37,126.43 77.17,132.23 71.57,132.23" fill="#0000ff"/><polygon points="79.33,125.68 82.13,131.48 76.53,131.48" fill="#0000ff"/><polygon points="84.30,126.00 87.10,131.80 81.50,131.80" fill="#0000ff"/><polygon points="89.27,128.00 92.07,133.80 86.47,133.80" fill="#0000ff"/><polygon points="94.24,130.12 97.04,135.92 91.44,135.92" fill="#0000ff"/><polygon points="99.20,133.81 102.00,139.61 96.40,139.61" fill="#0000ff"/><polygon points="104.17,136.85 106.97,142.65 101.37,142.65" fill="#0000ff"/><polygon points="109.14,139.81 111.94,145.61 106.34,145.61" fill="#0000ff"/><polygon points="114.10,142.47 116.90,148.27 111.30,148.27" fill="#0000ff"/><polygon points="119.07,144.47 121.87,150.27 116.27,150.27" fill="#0000ff"/><polygon points="124.04,146.49 126.84,152.29 121.24,152.29" fill="#0000ff"/><polygon points="129.00,148.46 131.81,154.26 126.20,154.26" fill="#0000ff"/><polygon points="133.97,150.84 136.77,156.64 131.17,156.64" fill="#0000ff"/><polygon points="138.94,152.61 141.74,158.41 136.14,158.41" fill="#0000ff"/><polygon points="143.91,154.48 146.71,160.28 141.11,160.28" fill="#0000ff"/><polygon points="148.87,156.30 151.67,162.10 146.07,162.10" fill="#0000ff"/><polygon points="153.84,158.24 156.64,164.04 151.04,164.04" fill="#0000ff"/><polygon points="158.81,160.04 161.61,165.84 156.01,165.84" fill="#0000ff"/><polygon points="163.77,161.32 166.57,167.12 160.97,167.12" fill="#0000ff"/><polygon points="168.74,162.66 171.54,168.46 165.94,168.46" fill="#0000ff"/><polygon points="173.71,164.15 176.51,169.95 170.91,169.95" fill="#0000ff"/><polygon points="178.68,165.20 181.48,171.00 175.88,171.00" fill="#0000ff"/><polygon points="183.64,166.52 186.44,172.32 180.84,172.32" fill="#0000ff"/><polygon points="188.61,167.85 191.41,173.65 185.81,173.65" fill="#0000ff"/><polygon points="193.58,169.92 196.38,175.72 190.78,175.72" fill="#0000ff"/><polygon points="198.54,172.05 201.34,177.85 195.74,177.85" fill="#0000ff"/><polygon points="203.51,174.38 206.31,180.18 200.71,180.18" fill="#0000ff"/><polygon points="208.48,176.77 211.28,182.57 205.68,182.57" fill="#0000ff"/><polygon points="213.44,179.48 216.24,185.28 210.64,185.28" fill="#0000ff"/><polygon points="218.41,181.60 221.21,187.40 215.61,187.40" fill="#0000ff"/><polygon points="223.38,184.04 226.18,189.84 220.58,189.84" fill="#0000ff"/><polygon points="228.34,186.25 231.15,192.05 225.54,192.05" fill="#0000ff"/><polygon points="233.31,188.81 236.11,194.61 230.51,194.61" fill="#0000ff"/><polygon points="238.28,190.77 241.08,196.57 235.48,196.57" fill="#0000ff"/><polygon points="243.25,193.10 246.05,198.90 240.45,198.90" fill="#0000ff"/><polygon points="248.21,195.28 251.01,201.08 245.41,201.08" fill="#0000ff"/><polygon points="253.18,197.25 255.98,203.05 250.38,203.05" fill="#0000ff"/><polygon points="260.63,200.85 263.43,206.65 257.83,206.65" fill="#0000ff"/><polygon points="270.56,205.45 273.36,211.25 267.76,211.25" fill="#0000ff"/><polygon points="280.50,210.82 283.30,216.62 277.70,216.62" fill="#0000ff"/><polygon points="290.43,216.84 293.23,222.64 287.63,222.64" fill="#0000ff"/><polygon points="300.37,222.67 303.17,228.47 297.57,228.47" fill="#0000ff"/><polygon points="310.30,228.14 313.10,233.94 307.50,233.94" fill="#0000ff"/><polygon points="320.23,235.02 323.03,240.82 317.43,240.82" fill="#0000ff"/><polygon points="330.17,241.00 332.97,246.80 327.37,246.80" fill="#0000ff"/><polygon points="340.10,247.06 342.90,252.86 337.30,252.86" fill="#0000ff"/><polygon points="350.04,254.00 352.84,259.80 347.24,259.80" fill="#0000ff"/><polygon points="359.97,260.40 362.77,266.20 357.17,266.20" fill="#0000ff"/>
<polyline points="54.50,181.50 59.47,168.50 64.43,152.00 69.40,140.80 74.37,131.80 79.33,126.30 84.30,122.00 89.27,119.50 94.24,118.60 99.20,119.70 104.17,122.00 109.14,125.00 114.10,128.70 119.07,134.00 124.04,138.90 129.00,145.10 133.97,151.60 138.94,158.30 143.91,165.20 148.87,171.50 153.84,177.00 158.81,181.90 163.77,187.10 168.74,191.40 173.71,194.40 178.68,197.80 183.64,200.50 188.61,202.80 193.58,205.90 198.54,206.90 203.51,209.70 208.48,211.70 213.44,213.70 218.41,215.70 223.38,217.60 228.34,219.80 233.31,222.60 238.28,223.70 243.25,225.20 248.21,226.70 253.18,229.80 260.63,232.50 270.56,236.70 280.50,240.50 290.43,243.20 300.37,247.60 310.30,253.20 320.23,256.50 330.17,262.80 340.10,266.20 350.04,270.20 359.97,273.00" fill="none" stroke="#ff0000" stroke-width="1.1" stroke-dasharray="1.2,1.3"/>
<polygon points="54.50,178.30 56.65,181.50 54.50,184.70 52.35,181.50" fill="#ff0000"/><polygon points="59.47,165.30 61.62,168.50 59.47,171.70 57.32,168.50" fill="#ff0000"/><polygon points="64.43,148.80 66.58,152.00 64.43,155.20 62.28,152.00" fill="#ff0000"/><polygon points="69.40,137.60 71.55,140.80 69.40,144.00 67.25,140.80" fill="#ff0000"/><polygon points="74.37,128.60 76.52,131.80 74.37,135.00 72.22,131.80" fill="#ff0000"/><polygon points="79.33,123.10 81.48,126.30 79.33,129.50 77.18,126.30" fill="#ff0000"/><polygon points="84.30,118.80 86.45,122.00 84.30,125.20 82.15,122.00" fill="#ff0000"/><polygon points="89.27,116.30 91.42,119.50 89.27,122.70 87.12,119.50" fill="#ff0000"/><polygon points="94.24,115.40 96.39,118.60 94.24,121.80 92.09,118.60" fill="#ff0000"/><polygon points="99.20,116.50 101.35,119.70 99.20,122.90 97.05,119.70" fill="#ff0000"/><polygon points="104.17,118.80 106.32,122.00 104.17,125.20 102.02,122.00" fill="#ff0000"/><polygon points="109.14,121.80 111.29,125.00 109.14,128.20 106.99,125.00" fill="#ff0000"/><polygon points="114.10,125.50 116.25,128.70 114.10,131.90 111.95,128.70" fill="#ff0000"/><polygon points="119.07,130.80 121.22,134.00 119.07,137.20 116.92,134.00" fill="#ff0000"/><polygon points="124.04,135.70 126.19,138.90 124.04,142.10 121.89,138.90" fill="#ff0000"/><polygon points="129.00,141.90 131.16,145.10 129.00,148.30 126.85,145.10" fill="#ff0000"/><polygon points="133.97,148.40 136.12,151.60 133.97,154.80 131.82,151.60" fill="#ff0000"/><polygon points="138.94,155.10 141.09,158.30 138.94,161.50 136.79,158.30" fill="#ff0000"/><polygon points="143.91,162.00 146.06,165.20 143.91,168.40 141.76,165.20" fill="#ff0000"/><polygon points="148.87,168.30 151.02,171.50 148.87,174.70 146.72,171.50" fill="#ff0000"/><polygon points="153.84,173.80 155.99,177.00 153.84,180.20 151.69,177.00" fill="#ff0000"/><polygon points="158.81,178.70 160.96,181.90 158.81,185.10 156.66,181.90" fill="#ff0000"/><polygon points="163.77,183.90 165.92,187.10 163.77,190.30 161.62,187.10" fill="#ff0000"/><polygon points="168.74,188.20 170.89,191.40 168.74,194.60 166.59,191.40" fill="#ff0000"/><polygon points="173.71,191.20 175.86,194.40 173.71,197.60 171.56,194.40" fill="#ff0000"/><polygon points="178.68,194.60 180.83,197.80 178.68,201.00 176.53,197.80" fill="#ff0000"/><polygon points="183.64,197.30 185.79,200.50 183.64,203.70 181.49,200.50" fill="#ff0000"/><polygon points="188.61,199.60 190.76,202.80 188.61,206.00 186.46,202.80" fill="#ff0000"/><polygon points="193.58,202.70 195.73,205.90 193.58,209.10 191.43,205.90" fill="#ff0000"/><polygon points="198.54,203.70 200.69,206.90 198.54,210.10 196.39,206.90" fill="#ff0000"/><polygon points="203.51,206.50 205.66,209.70 203.51,212.90 201.36,209.70" fill="#ff0000"/><polygon points="208.48,208.50 210.63,211.70 208.48,214.90 206.33,211.70" fill="#ff0000"/><polygon points="213.44,210.50 215.59,213.70 213.44,216.90 211.29,213.70" fill="#ff0000"/><polygon points="218.41,212.50 220.56,215.70 218.41,218.90 216.26,215.70" fill="#ff0000"/><polygon points="223.38,214.40 225.53,217.60 223.38,220.80 221.23,217.60" fill="#ff0000"/><polygon points="228.34,216.60 230.50,219.80 228.34,223.00 226.19,219.80" fill="#ff0000"/><polygon points="233.31,219.40 235.46,222.60 233.31,225.80 231.16,222.60" fill="#ff0000"/><polygon points="238.28,220.50 240.43,223.70 238.28,226.90 236.13,223.70" fill="#ff0000"/><polygon points="243.25,222.00 245.40,225.20 243.25,228.40 241.10,225.20" fill="#ff0000"/><polygon points="248.21,223.50 250.36,226.70 248.21,229.90 246.06,226.70" fill="#ff0000"/><polygon points="253.18,226.60 255.33,229.80 253.18,233.00 251.03,229.80" fill="#ff0000"/><polygon points="260.63,229.30 262.78,232.50 260.63,235.70 258.48,232.50" fill="#ff0000"/><polygon points="270.56,233.50 272.71,236.70 270.56,239.90 268.41,236.70" fill="#ff0000"/><polygon points="280.50,237.30 282.65,240.50 280.50,243.70 278.35,240.50" fill="#ff0000"/><polygon points="290.43,240.00 292.58,243.20 290.43,246.40 288.28,243.20" fill="#ff0000"/><polygon points="300.37,244.40 302.52,247.60 300.37,250.80 298.22,247.60" fill="#ff0000"/><polygon points="310.30,250.00 312.45,253.20 310.30,256.40 308.15,253.20" fill="#ff0000"/><polygon points="320.23,253.30 322.38,256.50 320.23,259.70 318.08,256.50" fill="#ff0000"/><polygon points="330.17,259.60 332.32,262.80 330.17,266.00 328.02,262.80" fill="#ff0000"/><polygon points="340.10,263.00 342.25,266.20 340.10,269.40 337.95,266.20" fill="#ff0000"/><polygon points="350.04,267.00 352.19,270.20 350.04,273.40 347.89,270.20" fill="#ff0000"/><polygon points="359.97,269.80 362.12,273.00 359.97,276.20 357.82,273.00" fill="#ff0000"/>
</g>
<text x="50.48" y="14.3" font-size="12.3" fill="#000" textLength="73.04" lengthAdjust="spacing">2360 GeV pp</text>
<text x="314.84" y="14.0" font-size="12.3" fill="#000" textLength="51.55" lengthAdjust="spacing">Soft QCD</text>
<text x="80.91" y="43.0" font-size="11.6" fill="#000" textLength="45.44" lengthAdjust="spacing">Charged</text>
<text x="129.63" y="43.0" font-size="11.6" fill="#000" textLength="59.61" lengthAdjust="spacing">multiplicity,</text>
<text x="193.26" y="43.0" font-size="11.6" fill="#000">|</text>
<text x="193.40" y="43.0" font-size="11.6" fill="#000">η</text>
<text x="200.16" y="43.0" font-size="11.6" fill="#000">|</text>
<text x="202.93" y="43.0" font-size="11.6" fill="#000">&lt;</text>
<text x="210.62" y="43.0" font-size="11.6" fill="#000" textLength="15.49" lengthAdjust="spacing">1.3</text>
<text x="229.76" y="43.0" font-size="11.6" fill="#000">,</text>
<text x="237.68" y="43.0" font-size="11.6" fill="#000">s</text>
<text x="243.63" y="43.0" font-size="11.6" fill="#000">=</text>
<text x="250.42" y="43.0" font-size="11.6" fill="#000" textLength="22.59" lengthAdjust="spacing">2.36</text>
<text x="275.04" y="43.0" font-size="11.6" fill="#000" textLength="22.21" lengthAdjust="spacing">TeV</text>
<text x="302.28" y="43.0" font-size="11.6" fill="#000">(</text>
<text x="307.13" y="43.0" font-size="11.6" fill="#000">I</text>
<text x="311.45" y="43.0" font-size="11.6" fill="#000">N</text>
<text x="320.05" y="43.0" font-size="11.6" fill="#000">E</text>
<text x="327.25" y="43.0" font-size="11.6" fill="#000">L</text>
<text x="334.33" y="43.0" font-size="11.6" fill="#000">)</text>
<path d="M233.0,40.3 L234.3,39.6 L235.6,43.9 L237.2,33.6 L244.0,33.6" fill="none" stroke="#000" stroke-width="0.95"/>
<text x="40.2" y="25.0" font-size="11.5" text-anchor="end" fill="#000">10</text>
<text x="40.2" y="73.8" font-size="11.5" text-anchor="end" fill="#000">1</text>
<text x="33.6" y="123.1" font-size="11.5" text-anchor="end" fill="#000">10</text>
<text x="33.4" y="117.7" font-size="7.6" text-anchor="start" fill="#000">&#8722;1</text>
<text x="33.6" y="171.85" font-size="11.5" text-anchor="end" fill="#000">10</text>
<text x="33.4" y="166.45" font-size="7.6" text-anchor="start" fill="#000">&#8722;2</text>
<text x="33.6" y="220.6" font-size="11.5" text-anchor="end" fill="#000">10</text>
<text x="33.4" y="215.2" font-size="7.6" text-anchor="start" fill="#000">&#8722;3</text>
<text x="33.6" y="269.35" font-size="11.5" text-anchor="end" fill="#000">10</text>
<text x="33.4" y="263.95" font-size="7.6" text-anchor="start" fill="#000">&#8722;4</text>
<text x="33.6" y="318.1" font-size="11.5" text-anchor="end" fill="#000">10</text>
<text x="33.4" y="312.7" font-size="7.6" text-anchor="start" fill="#000">&#8722;5</text>
<text x="38.4" y="341.3924558737078" font-size="12.3" text-anchor="end" fill="#000">2</text>
<text x="38.4" y="402.05" font-size="12.3" text-anchor="end" fill="#000">1</text>
<text x="38.4" y="462.70754412629225" font-size="12.3" text-anchor="end" fill="#000">0.5</text>
<text x="373.28" y="342.09" font-size="12.3" fill="#000">2</text>
<text x="374.06" y="402.75" font-size="12.3" fill="#000">1</text>
<text x="373.42" y="463.01" font-size="12.3" fill="#000" textLength="17.10" lengthAdjust="spacing">0.5</text>
<text x="54.5" y="488.9" font-size="12" text-anchor="middle" fill="#000">0</text>
<text x="153.83999999999997" y="488.9" font-size="12" text-anchor="middle" fill="#000">20</text>
<text x="253.17999999999998" y="488.9" font-size="12" text-anchor="middle" fill="#000">40</text>
<text x="352.52" y="488.9" font-size="12" text-anchor="middle" fill="#000">60</text>
<text x="354.5" y="502.8" font-size="12.5" text-anchor="start" fill="#000">N</text>
<text x="363" y="507.2" font-size="8.2" text-anchor="start" fill="#000">ch</text>
<g transform="translate(15.1,59) rotate(-90)"><text x="0" y="0" font-size="12" text-anchor="start" fill="#000">dN/dN</text><text x="34" y="3.6" font-size="8.2" text-anchor="start" fill="#000">ch</text></g>
<g transform="translate(18,426.3) rotate(-90)"><text x="-0.74" y="0" font-size="9" fill="#000" textLength="60.62" lengthAdjust="spacing">Ratio to ALICE</text></g>
<g transform="translate(379.8,127.1) rotate(-90)"><text x="-0.77" y="0" font-size="9.4" fill="#777" textLength="109.81" lengthAdjust="spacing">Rivet 4.1.0, ≥ 400k events</text></g>
<g transform="translate(379.8,313.4) rotate(-90)"><text x="-0.62" y="0" font-size="9.4" fill="#777" textLength="148.59" lengthAdjust="spacing">mcplots.cern.ch [arXiv:2401.10621]</text></g>
<rect x="73.65" y="221.05" width="5.7" height="5.7" fill="#000"/>
<line x1="64" y1="237.0" x2="89" y2="237.0" stroke="#f28a8a" stroke-width="1"/>
<polygon points="76.50,234.40 78.60,237.00 76.50,239.60 74.40,237.00" fill="none" stroke="#f28a8a" stroke-width="1.1"/>
<line x1="64" y1="250.0" x2="89" y2="250.0" stroke="#3a9d1f" stroke-width="1" stroke-dasharray="3,2"/>
<rect x="73.90" y="247.40" width="5.2" height="5.2" fill="none" stroke="#3a9d1f" stroke-width="1.25"/>
<line x1="64" y1="263.2" x2="89" y2="263.2" stroke="#0000ff" stroke-width="1"/>
<polygon points="76.50,260.00 79.30,265.80 73.70,265.80" fill="#0000ff"/>
<line x1="64" y1="276.1" x2="89" y2="276.1" stroke="#ff0000" stroke-width="1" stroke-dasharray="1.2,1.3"/>
<polygon points="76.50,272.90 78.65,276.10 76.50,279.30 74.35,276.10" fill="#ff0000"/>
<text x="94.58" y="227.1" font-size="9.5" fill="#000" textLength="26.33" lengthAdjust="spacing">ALICE</text>
<text x="93.82" y="240.2" font-size="9.5" fill="#000" textLength="104.13" lengthAdjust="spacing">Epos 1.99.crmc.1.6.0 lhc</text>
<text x="93.82" y="253.2" font-size="9.5" fill="#000" textLength="83.65" lengthAdjust="spacing">Herwig 7.2.1 default</text>
<text x="93.82" y="266.4" font-size="9.5" fill="#000" textLength="83.65" lengthAdjust="spacing">Pythia 8.315 default</text>
<text x="94.17" y="279.3" font-size="9.5" fill="#000" textLength="84.10" lengthAdjust="spacing">Sherpa 2.2.9 default</text>
<text x="166.39" y="302.5" font-size="8.3" fill="#999" textLength="83.73" lengthAdjust="spacing">(ALICE_2010_I852450)</text>
</svg></body></html>
